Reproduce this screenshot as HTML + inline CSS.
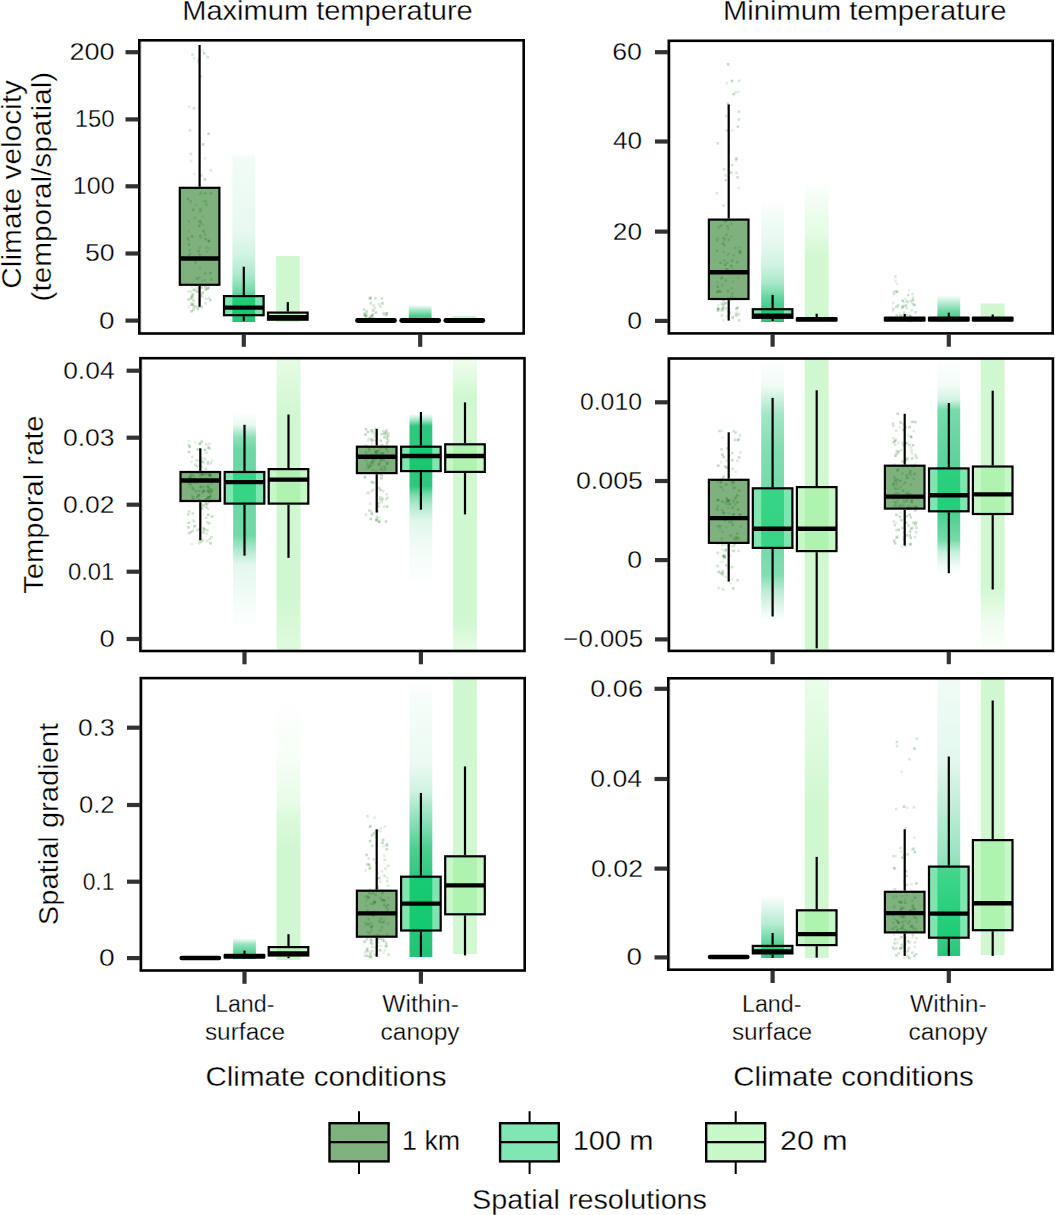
<!DOCTYPE html><html><head><meta charset="utf-8"><style>html,body{margin:0;padding:0;background:#fff;width:1055px;height:1215px;overflow:hidden}svg{display:block}</style></head><body><svg width="1055" height="1215" viewBox="0 0 1055 1215"><rect width="100%" height="100%" fill="#fff"/><defs><linearGradient id="g1" x1="0" y1="0" x2="0" y2="1"><stop offset="0.0000" stop-color="#1CC273" stop-opacity="0.0"/><stop offset="0.0469" stop-color="#1CC273" stop-opacity="0.06"/><stop offset="0.4575" stop-color="#1CC273" stop-opacity="0.1"/><stop offset="0.6041" stop-color="#1CC273" stop-opacity="0.2"/><stop offset="0.7214" stop-color="#1CC273" stop-opacity="0.36"/><stop offset="0.8094" stop-color="#1CC273" stop-opacity="0.6"/><stop offset="0.8680" stop-color="#1CC273" stop-opacity="0.85"/><stop offset="0.9941" stop-color="#1CC273" stop-opacity="0.97"/><stop offset="1.0000" stop-color="#1CC273" stop-opacity="0.0"/></linearGradient><linearGradient id="g2" x1="0" y1="0" x2="0" y2="1"><stop offset="0.0000" stop-color="#90EE90" stop-opacity="0.0"/><stop offset="0.0149" stop-color="#90EE90" stop-opacity="0.42"/><stop offset="0.9851" stop-color="#90EE90" stop-opacity="0.42"/><stop offset="1.0000" stop-color="#90EE90" stop-opacity="0.0"/></linearGradient><linearGradient id="g3" x1="0" y1="0" x2="0" y2="1"><stop offset="0.0000" stop-color="#1CC273" stop-opacity="0.0"/><stop offset="0.3030" stop-color="#1CC273" stop-opacity="0.4"/><stop offset="0.6667" stop-color="#1CC273" stop-opacity="0.8"/><stop offset="1.0000" stop-color="#1CC273" stop-opacity="0.9"/></linearGradient><linearGradient id="g4" x1="0" y1="0" x2="0" y2="1"><stop offset="0.0000" stop-color="#90EE90" stop-opacity="0.0"/><stop offset="0.1667" stop-color="#90EE90" stop-opacity="0.42"/><stop offset="1.0000" stop-color="#90EE90" stop-opacity="0.42"/></linearGradient><linearGradient id="g5" x1="0" y1="0" x2="0" y2="1"><stop offset="0.0000" stop-color="#1CC273" stop-opacity="0.0"/><stop offset="0.1224" stop-color="#1CC273" stop-opacity="0.05"/><stop offset="0.3265" stop-color="#1CC273" stop-opacity="0.1"/><stop offset="0.5306" stop-color="#1CC273" stop-opacity="0.2"/><stop offset="0.6776" stop-color="#1CC273" stop-opacity="0.38"/><stop offset="0.8000" stop-color="#1CC273" stop-opacity="0.7"/><stop offset="0.9918" stop-color="#1CC273" stop-opacity="0.97"/><stop offset="1.0000" stop-color="#1CC273" stop-opacity="0.0"/></linearGradient><linearGradient id="g6" x1="0" y1="0" x2="0" y2="1"><stop offset="0.0000" stop-color="#90EE90" stop-opacity="0.0"/><stop offset="0.1463" stop-color="#90EE90" stop-opacity="0.1"/><stop offset="0.3902" stop-color="#90EE90" stop-opacity="0.25"/><stop offset="0.5296" stop-color="#90EE90" stop-opacity="0.4"/><stop offset="0.9930" stop-color="#90EE90" stop-opacity="0.42"/><stop offset="1.0000" stop-color="#90EE90" stop-opacity="0.0"/></linearGradient><linearGradient id="g7" x1="0" y1="0" x2="0" y2="1"><stop offset="0.0000" stop-color="#1CC273" stop-opacity="0.0"/><stop offset="0.1887" stop-color="#1CC273" stop-opacity="0.2"/><stop offset="0.5660" stop-color="#1CC273" stop-opacity="0.6"/><stop offset="1.0000" stop-color="#1CC273" stop-opacity="0.9"/></linearGradient><linearGradient id="g8" x1="0" y1="0" x2="0" y2="1"><stop offset="0.0000" stop-color="#90EE90" stop-opacity="0.0"/><stop offset="0.0541" stop-color="#90EE90" stop-opacity="0.42"/><stop offset="1.0000" stop-color="#90EE90" stop-opacity="0.42"/></linearGradient><linearGradient id="g9" x1="0" y1="0" x2="0" y2="1"><stop offset="0.0000" stop-color="#1CC273" stop-opacity="0.0"/><stop offset="0.0602" stop-color="#1CC273" stop-opacity="0.1"/><stop offset="0.1157" stop-color="#1CC273" stop-opacity="0.5"/><stop offset="0.1759" stop-color="#1CC273" stop-opacity="0.65"/><stop offset="0.5694" stop-color="#1CC273" stop-opacity="0.62"/><stop offset="0.6389" stop-color="#1CC273" stop-opacity="0.35"/><stop offset="0.7083" stop-color="#1CC273" stop-opacity="0.12"/><stop offset="0.8704" stop-color="#1CC273" stop-opacity="0.05"/><stop offset="1.0000" stop-color="#1CC273" stop-opacity="0.0"/></linearGradient><linearGradient id="g10" x1="0" y1="0" x2="0" y2="1"><stop offset="0.0000" stop-color="#90EE90" stop-opacity="0.22"/><stop offset="0.1919" stop-color="#90EE90" stop-opacity="0.42"/><stop offset="0.8234" stop-color="#90EE90" stop-opacity="0.42"/><stop offset="1.0000" stop-color="#90EE90" stop-opacity="0.28"/></linearGradient><linearGradient id="g11" x1="0" y1="0" x2="0" y2="1"><stop offset="0.0000" stop-color="#1CC273" stop-opacity="0.0"/><stop offset="0.0349" stop-color="#1CC273" stop-opacity="0.4"/><stop offset="0.0698" stop-color="#1CC273" stop-opacity="0.92"/><stop offset="0.4186" stop-color="#1CC273" stop-opacity="0.92"/><stop offset="0.4651" stop-color="#1CC273" stop-opacity="0.6"/><stop offset="0.5291" stop-color="#1CC273" stop-opacity="0.35"/><stop offset="0.6163" stop-color="#1CC273" stop-opacity="0.15"/><stop offset="0.7616" stop-color="#1CC273" stop-opacity="0.06"/><stop offset="1.0000" stop-color="#1CC273" stop-opacity="0.0"/></linearGradient><linearGradient id="g12" x1="0" y1="0" x2="0" y2="1"><stop offset="0.0000" stop-color="#90EE90" stop-opacity="0.12"/><stop offset="0.1307" stop-color="#90EE90" stop-opacity="0.42"/><stop offset="0.8947" stop-color="#90EE90" stop-opacity="0.42"/><stop offset="1.0000" stop-color="#90EE90" stop-opacity="0.2"/></linearGradient><linearGradient id="g13" x1="0" y1="0" x2="0" y2="1"><stop offset="0.0000" stop-color="#1CC273" stop-opacity="0.0"/><stop offset="0.1065" stop-color="#1CC273" stop-opacity="0.06"/><stop offset="0.2167" stop-color="#1CC273" stop-opacity="0.4"/><stop offset="0.3536" stop-color="#1CC273" stop-opacity="0.55"/><stop offset="0.6198" stop-color="#1CC273" stop-opacity="0.65"/><stop offset="0.8289" stop-color="#1CC273" stop-opacity="0.55"/><stop offset="0.8897" stop-color="#1CC273" stop-opacity="0.3"/><stop offset="1.0000" stop-color="#1CC273" stop-opacity="0.0"/></linearGradient><linearGradient id="g14" x1="0" y1="0" x2="0" y2="1"><stop offset="0.0000" stop-color="#90EE90" stop-opacity="0.42"/><stop offset="1.0000" stop-color="#90EE90" stop-opacity="0.42"/></linearGradient><linearGradient id="g15" x1="0" y1="0" x2="0" y2="1"><stop offset="0.0000" stop-color="#1CC273" stop-opacity="0.0"/><stop offset="0.1284" stop-color="#1CC273" stop-opacity="0.05"/><stop offset="0.1972" stop-color="#1CC273" stop-opacity="0.2"/><stop offset="0.2431" stop-color="#1CC273" stop-opacity="0.6"/><stop offset="0.4954" stop-color="#1CC273" stop-opacity="0.72"/><stop offset="0.7110" stop-color="#1CC273" stop-opacity="0.8"/><stop offset="0.8394" stop-color="#1CC273" stop-opacity="0.6"/><stop offset="0.8945" stop-color="#1CC273" stop-opacity="0.25"/><stop offset="0.9633" stop-color="#1CC273" stop-opacity="0.05"/><stop offset="1.0000" stop-color="#1CC273" stop-opacity="0.0"/></linearGradient><linearGradient id="g16" x1="0" y1="0" x2="0" y2="1"><stop offset="0.0000" stop-color="#90EE90" stop-opacity="0.42"/><stop offset="0.7839" stop-color="#90EE90" stop-opacity="0.42"/><stop offset="0.9005" stop-color="#90EE90" stop-opacity="0.15"/><stop offset="1.0000" stop-color="#90EE90" stop-opacity="0.04"/></linearGradient><linearGradient id="g17" x1="0" y1="0" x2="0" y2="1"><stop offset="0.0000" stop-color="#1CC273" stop-opacity="0.0"/><stop offset="0.3333" stop-color="#1CC273" stop-opacity="0.5"/><stop offset="1.0000" stop-color="#1CC273" stop-opacity="0.95"/></linearGradient><linearGradient id="g18" x1="0" y1="0" x2="0" y2="1"><stop offset="0.0000" stop-color="#90EE90" stop-opacity="0.0"/><stop offset="0.2453" stop-color="#90EE90" stop-opacity="0.08"/><stop offset="0.3962" stop-color="#90EE90" stop-opacity="0.2"/><stop offset="0.4755" stop-color="#90EE90" stop-opacity="0.33"/><stop offset="0.5660" stop-color="#90EE90" stop-opacity="0.42"/><stop offset="1.0000" stop-color="#90EE90" stop-opacity="0.42"/></linearGradient><linearGradient id="g19" x1="0" y1="0" x2="0" y2="1"><stop offset="0.0000" stop-color="#1CC273" stop-opacity="0.0"/><stop offset="0.0722" stop-color="#1CC273" stop-opacity="0.04"/><stop offset="0.2888" stop-color="#1CC273" stop-opacity="0.08"/><stop offset="0.3971" stop-color="#1CC273" stop-opacity="0.2"/><stop offset="0.5054" stop-color="#1CC273" stop-opacity="0.5"/><stop offset="0.6137" stop-color="#1CC273" stop-opacity="0.8"/><stop offset="0.7040" stop-color="#1CC273" stop-opacity="0.9"/><stop offset="1.0000" stop-color="#1CC273" stop-opacity="0.97"/></linearGradient><linearGradient id="g20" x1="0" y1="0" x2="0" y2="1"><stop offset="0.0000" stop-color="#90EE90" stop-opacity="0.42"/><stop offset="1.0000" stop-color="#90EE90" stop-opacity="0.42"/></linearGradient><linearGradient id="g21" x1="0" y1="0" x2="0" y2="1"><stop offset="0.0000" stop-color="#1CC273" stop-opacity="0.0"/><stop offset="0.4603" stop-color="#1CC273" stop-opacity="0.32"/><stop offset="0.7143" stop-color="#1CC273" stop-opacity="0.65"/><stop offset="1.0000" stop-color="#1CC273" stop-opacity="0.92"/></linearGradient><linearGradient id="g22" x1="0" y1="0" x2="0" y2="1"><stop offset="0.0000" stop-color="#90EE90" stop-opacity="0.18"/><stop offset="0.3048" stop-color="#90EE90" stop-opacity="0.33"/><stop offset="0.4367" stop-color="#90EE90" stop-opacity="0.42"/><stop offset="1.0000" stop-color="#90EE90" stop-opacity="0.42"/></linearGradient><linearGradient id="g23" x1="0" y1="0" x2="0" y2="1"><stop offset="0.0000" stop-color="#1CC273" stop-opacity="0.06"/><stop offset="0.2962" stop-color="#1CC273" stop-opacity="0.12"/><stop offset="0.6373" stop-color="#1CC273" stop-opacity="0.45"/><stop offset="0.7989" stop-color="#1CC273" stop-opacity="0.7"/><stop offset="1.0000" stop-color="#1CC273" stop-opacity="0.95"/></linearGradient><linearGradient id="g24" x1="0" y1="0" x2="0" y2="1"><stop offset="0.0000" stop-color="#90EE90" stop-opacity="0.42"/><stop offset="1.0000" stop-color="#90EE90" stop-opacity="0.42"/></linearGradient></defs><g><rect x="201.9" y="200.5" width="2.6" height="2.6" fill="#006400" fill-opacity="0.1"/><rect x="200.3" y="286.4" width="2.6" height="2.6" fill="#006400" fill-opacity="0.14"/><rect x="188.0" y="105.2" width="2.6" height="2.6" fill="#006400" fill-opacity="0.1"/><rect x="199.9" y="191.4" width="2.6" height="2.6" fill="#006400" fill-opacity="0.14"/><rect x="187.8" y="243.2" width="2.6" height="2.6" fill="#006400" fill-opacity="0.23"/><rect x="199.7" y="75.1" width="2.6" height="2.6" fill="#006400" fill-opacity="0.14"/><rect x="189.1" y="199.9" width="2.6" height="2.6" fill="#006400" fill-opacity="0.18"/><rect x="188.8" y="253.0" width="2.6" height="2.6" fill="#006400" fill-opacity="0.14"/><rect x="187.8" y="239.7" width="2.6" height="2.6" fill="#006400" fill-opacity="0.1"/><rect x="199.1" y="234.6" width="2.6" height="2.6" fill="#006400" fill-opacity="0.18"/><rect x="195.0" y="276.8" width="2.6" height="2.6" fill="#006400" fill-opacity="0.14"/><rect x="192.2" y="299.3" width="2.6" height="2.6" fill="#006400" fill-opacity="0.18"/><rect x="203.8" y="272.1" width="2.6" height="2.6" fill="#006400" fill-opacity="0.18"/><rect x="198.6" y="192.8" width="2.6" height="2.6" fill="#006400" fill-opacity="0.14"/><rect x="198.0" y="287.6" width="2.6" height="2.6" fill="#006400" fill-opacity="0.1"/><rect x="199.7" y="286.1" width="2.6" height="2.6" fill="#006400" fill-opacity="0.18"/><rect x="198.2" y="220.2" width="2.6" height="2.6" fill="#006400" fill-opacity="0.23"/><rect x="192.8" y="57.0" width="2.6" height="2.6" fill="#006400" fill-opacity="0.1"/><rect x="201.8" y="143.2" width="2.6" height="2.6" fill="#006400" fill-opacity="0.23"/><rect x="202.3" y="223.7" width="2.6" height="2.6" fill="#006400" fill-opacity="0.1"/><rect x="201.0" y="292.0" width="2.6" height="2.6" fill="#006400" fill-opacity="0.23"/><rect x="189.4" y="152.7" width="2.6" height="2.6" fill="#006400" fill-opacity="0.14"/><rect x="198.2" y="276.2" width="2.6" height="2.6" fill="#006400" fill-opacity="0.14"/><rect x="207.5" y="239.9" width="2.6" height="2.6" fill="#006400" fill-opacity="0.23"/><rect x="196.3" y="290.3" width="2.6" height="2.6" fill="#006400" fill-opacity="0.18"/><rect x="191.8" y="292.5" width="2.6" height="2.6" fill="#006400" fill-opacity="0.1"/><rect x="191.9" y="208.5" width="2.6" height="2.6" fill="#006400" fill-opacity="0.23"/><rect x="193.1" y="288.3" width="2.6" height="2.6" fill="#006400" fill-opacity="0.14"/><rect x="199.9" y="222.1" width="2.6" height="2.6" fill="#006400" fill-opacity="0.14"/><rect x="201.1" y="295.4" width="2.6" height="2.6" fill="#006400" fill-opacity="0.1"/><rect x="209.1" y="271.7" width="2.6" height="2.6" fill="#006400" fill-opacity="0.23"/><rect x="197.9" y="224.5" width="2.6" height="2.6" fill="#006400" fill-opacity="0.23"/><rect x="191.3" y="53.3" width="2.6" height="2.6" fill="#006400" fill-opacity="0.14"/><rect x="188.8" y="128.9" width="2.6" height="2.6" fill="#006400" fill-opacity="0.14"/><rect x="201.0" y="279.4" width="2.6" height="2.6" fill="#006400" fill-opacity="0.1"/><rect x="189.9" y="297.5" width="2.6" height="2.6" fill="#006400" fill-opacity="0.18"/><rect x="197.7" y="297.2" width="2.6" height="2.6" fill="#006400" fill-opacity="0.1"/><rect x="197.5" y="305.6" width="2.6" height="2.6" fill="#006400" fill-opacity="0.23"/><rect x="204.3" y="199.8" width="2.6" height="2.6" fill="#006400" fill-opacity="0.18"/><rect x="198.7" y="254.0" width="2.6" height="2.6" fill="#006400" fill-opacity="0.14"/><rect x="189.8" y="295.7" width="2.6" height="2.6" fill="#006400" fill-opacity="0.1"/><rect x="201.7" y="290.7" width="2.6" height="2.6" fill="#006400" fill-opacity="0.1"/><rect x="195.1" y="290.0" width="2.6" height="2.6" fill="#006400" fill-opacity="0.14"/><rect x="199.3" y="207.6" width="2.6" height="2.6" fill="#006400" fill-opacity="0.18"/><rect x="205.2" y="246.2" width="2.6" height="2.6" fill="#006400" fill-opacity="0.14"/><rect x="204.1" y="301.8" width="2.6" height="2.6" fill="#006400" fill-opacity="0.14"/><rect x="203.8" y="234.3" width="2.6" height="2.6" fill="#006400" fill-opacity="0.1"/><rect x="190.9" y="294.5" width="2.6" height="2.6" fill="#006400" fill-opacity="0.18"/><rect x="210.0" y="278.2" width="2.6" height="2.6" fill="#006400" fill-opacity="0.18"/><rect x="197.6" y="58.2" width="2.6" height="2.6" fill="#006400" fill-opacity="0.18"/><rect x="207.9" y="247.3" width="2.6" height="2.6" fill="#006400" fill-opacity="0.1"/><rect x="205.5" y="250.1" width="2.6" height="2.6" fill="#006400" fill-opacity="0.1"/><rect x="195.6" y="287.0" width="2.6" height="2.6" fill="#006400" fill-opacity="0.14"/><rect x="205.2" y="203.2" width="2.6" height="2.6" fill="#006400" fill-opacity="0.18"/><rect x="203.6" y="178.0" width="2.6" height="2.6" fill="#006400" fill-opacity="0.23"/><rect x="203.7" y="279.1" width="2.6" height="2.6" fill="#006400" fill-opacity="0.14"/><rect x="200.5" y="305.8" width="2.6" height="2.6" fill="#006400" fill-opacity="0.23"/><rect x="206.1" y="287.5" width="2.6" height="2.6" fill="#006400" fill-opacity="0.23"/><rect x="199.5" y="220.2" width="2.6" height="2.6" fill="#006400" fill-opacity="0.14"/><rect x="203.7" y="157.1" width="2.6" height="2.6" fill="#006400" fill-opacity="0.1"/><rect x="196.7" y="277.8" width="2.6" height="2.6" fill="#006400" fill-opacity="0.14"/><rect x="192.3" y="288.9" width="2.6" height="2.6" fill="#006400" fill-opacity="0.18"/><rect x="194.1" y="261.1" width="2.6" height="2.6" fill="#006400" fill-opacity="0.23"/><rect x="204.1" y="285.7" width="2.6" height="2.6" fill="#006400" fill-opacity="0.23"/><rect x="198.7" y="266.1" width="2.6" height="2.6" fill="#006400" fill-opacity="0.14"/><rect x="186.7" y="237.3" width="2.6" height="2.6" fill="#006400" fill-opacity="0.23"/><rect x="204.9" y="297.4" width="2.6" height="2.6" fill="#006400" fill-opacity="0.14"/><rect x="203.7" y="232.4" width="2.6" height="2.6" fill="#006400" fill-opacity="0.1"/><rect x="199.6" y="236.8" width="2.6" height="2.6" fill="#006400" fill-opacity="0.1"/><rect x="190.9" y="285.6" width="2.6" height="2.6" fill="#006400" fill-opacity="0.1"/><rect x="199.8" y="295.2" width="2.6" height="2.6" fill="#006400" fill-opacity="0.1"/><rect x="198.4" y="246.1" width="2.6" height="2.6" fill="#006400" fill-opacity="0.14"/><rect x="199.1" y="294.0" width="2.6" height="2.6" fill="#006400" fill-opacity="0.23"/><rect x="198.9" y="210.1" width="2.6" height="2.6" fill="#006400" fill-opacity="0.18"/><rect x="191.2" y="303.4" width="2.6" height="2.6" fill="#006400" fill-opacity="0.23"/><rect x="196.9" y="61.0" width="2.6" height="2.6" fill="#006400" fill-opacity="0.1"/><rect x="191.4" y="293.5" width="2.6" height="2.6" fill="#006400" fill-opacity="0.18"/><rect x="190.0" y="303.5" width="2.6" height="2.6" fill="#006400" fill-opacity="0.18"/><rect x="209.5" y="169.0" width="2.6" height="2.6" fill="#006400" fill-opacity="0.14"/><rect x="207.5" y="286.4" width="2.6" height="2.6" fill="#006400" fill-opacity="0.14"/><rect x="190.2" y="309.9" width="2.6" height="2.6" fill="#006400" fill-opacity="0.23"/><rect x="196.4" y="307.7" width="2.6" height="2.6" fill="#006400" fill-opacity="0.18"/><rect x="186.8" y="256.9" width="2.6" height="2.6" fill="#006400" fill-opacity="0.23"/><rect x="194.3" y="187.4" width="2.6" height="2.6" fill="#006400" fill-opacity="0.18"/><rect x="209.9" y="192.0" width="2.6" height="2.6" fill="#006400" fill-opacity="0.14"/><rect x="192.7" y="306.2" width="2.6" height="2.6" fill="#006400" fill-opacity="0.1"/><rect x="204.4" y="288.3" width="2.6" height="2.6" fill="#006400" fill-opacity="0.23"/><rect x="209.0" y="298.8" width="2.6" height="2.6" fill="#006400" fill-opacity="0.23"/><rect x="200.0" y="174.1" width="2.6" height="2.6" fill="#006400" fill-opacity="0.18"/><rect x="202.8" y="51.9" width="2.6" height="2.6" fill="#006400" fill-opacity="0.23"/><rect x="186.7" y="290.1" width="2.6" height="2.6" fill="#006400" fill-opacity="0.1"/><rect x="206.8" y="286.2" width="2.6" height="2.6" fill="#006400" fill-opacity="0.1"/><rect x="186.6" y="197.6" width="2.6" height="2.6" fill="#006400" fill-opacity="0.23"/><rect x="189.4" y="290.1" width="2.6" height="2.6" fill="#006400" fill-opacity="0.14"/><rect x="192.6" y="305.0" width="2.6" height="2.6" fill="#006400" fill-opacity="0.14"/><rect x="193.6" y="216.4" width="2.6" height="2.6" fill="#006400" fill-opacity="0.14"/><rect x="190.6" y="235.0" width="2.6" height="2.6" fill="#006400" fill-opacity="0.18"/><rect x="187.2" y="305.6" width="2.6" height="2.6" fill="#006400" fill-opacity="0.1"/><rect x="190.8" y="296.1" width="2.6" height="2.6" fill="#006400" fill-opacity="0.23"/><rect x="202.1" y="229.8" width="2.6" height="2.6" fill="#006400" fill-opacity="0.23"/><rect x="207.6" y="239.5" width="2.6" height="2.6" fill="#006400" fill-opacity="0.18"/><rect x="194.5" y="305.3" width="2.6" height="2.6" fill="#006400" fill-opacity="0.14"/><rect x="187.6" y="219.9" width="2.6" height="2.6" fill="#006400" fill-opacity="0.14"/><rect x="207.4" y="132.5" width="2.6" height="2.6" fill="#006400" fill-opacity="0.23"/><rect x="206.5" y="55.7" width="2.6" height="2.6" fill="#006400" fill-opacity="0.18"/><rect x="187.4" y="254.0" width="2.6" height="2.6" fill="#006400" fill-opacity="0.14"/><rect x="192.6" y="107.0" width="2.6" height="2.6" fill="#006400" fill-opacity="0.18"/><rect x="192.2" y="308.4" width="2.6" height="2.6" fill="#006400" fill-opacity="0.18"/><rect x="194.3" y="203.7" width="2.6" height="2.6" fill="#006400" fill-opacity="0.1"/><rect x="191.1" y="235.3" width="2.6" height="2.6" fill="#006400" fill-opacity="0.1"/><rect x="189.8" y="159.6" width="2.6" height="2.6" fill="#006400" fill-opacity="0.1"/><rect x="201.4" y="215.2" width="2.6" height="2.6" fill="#006400" fill-opacity="0.1"/><rect x="204.3" y="237.9" width="2.6" height="2.6" fill="#006400" fill-opacity="0.23"/><rect x="198.2" y="299.8" width="2.6" height="2.6" fill="#006400" fill-opacity="0.18"/><rect x="187.4" y="298.1" width="2.6" height="2.6" fill="#006400" fill-opacity="0.23"/><rect x="189.6" y="301.7" width="2.6" height="2.6" fill="#006400" fill-opacity="0.1"/><rect x="207.7" y="296.8" width="2.6" height="2.6" fill="#006400" fill-opacity="0.14"/><rect x="201.6" y="49.6" width="2.6" height="2.6" fill="#006400" fill-opacity="0.1"/><rect x="187.5" y="230.2" width="2.6" height="2.6" fill="#006400" fill-opacity="0.1"/><rect x="198.0" y="252.8" width="2.6" height="2.6" fill="#006400" fill-opacity="0.1"/><rect x="208.7" y="192.5" width="2.6" height="2.6" fill="#006400" fill-opacity="0.1"/><rect x="204.0" y="192.1" width="2.6" height="2.6" fill="#006400" fill-opacity="0.18"/><rect x="191.9" y="302.4" width="2.6" height="2.6" fill="#006400" fill-opacity="0.14"/><rect x="197.3" y="249.8" width="2.6" height="2.6" fill="#006400" fill-opacity="0.23"/><rect x="193.2" y="172.9" width="2.6" height="2.6" fill="#006400" fill-opacity="0.1"/><rect x="188.2" y="249.1" width="2.6" height="2.6" fill="#006400" fill-opacity="0.14"/><rect x="232.4" y="152.0" width="22.8" height="170.5" fill="url(#g1)"/><rect x="275.9" y="255.5" width="23.8" height="67.0" fill="url(#g2)"/><rect x="379.3" y="305.5" width="2.6" height="2.6" fill="#006400" fill-opacity="0.14"/><rect x="369.2" y="296.6" width="2.6" height="2.6" fill="#006400" fill-opacity="0.1"/><rect x="369.7" y="316.8" width="2.6" height="2.6" fill="#006400" fill-opacity="0.18"/><rect x="365.5" y="314.9" width="2.6" height="2.6" fill="#006400" fill-opacity="0.14"/><rect x="374.1" y="297.0" width="2.6" height="2.6" fill="#006400" fill-opacity="0.18"/><rect x="385.9" y="318.1" width="2.6" height="2.6" fill="#006400" fill-opacity="0.23"/><rect x="384.7" y="314.2" width="2.6" height="2.6" fill="#006400" fill-opacity="0.14"/><rect x="380.6" y="297.1" width="2.6" height="2.6" fill="#006400" fill-opacity="0.18"/><rect x="382.4" y="311.9" width="2.6" height="2.6" fill="#006400" fill-opacity="0.18"/><rect x="368.3" y="317.0" width="2.6" height="2.6" fill="#006400" fill-opacity="0.23"/><rect x="385.5" y="312.1" width="2.6" height="2.6" fill="#006400" fill-opacity="0.23"/><rect x="372.7" y="317.2" width="2.6" height="2.6" fill="#006400" fill-opacity="0.23"/><rect x="362.7" y="308.3" width="2.6" height="2.6" fill="#006400" fill-opacity="0.18"/><rect x="384.9" y="311.8" width="2.6" height="2.6" fill="#006400" fill-opacity="0.1"/><rect x="371.6" y="313.3" width="2.6" height="2.6" fill="#006400" fill-opacity="0.23"/><rect x="364.5" y="318.5" width="2.6" height="2.6" fill="#006400" fill-opacity="0.23"/><rect x="369.4" y="318.4" width="2.6" height="2.6" fill="#006400" fill-opacity="0.1"/><rect x="385.2" y="313.3" width="2.6" height="2.6" fill="#006400" fill-opacity="0.14"/><rect x="370.3" y="314.6" width="2.6" height="2.6" fill="#006400" fill-opacity="0.18"/><rect x="363.4" y="314.5" width="2.6" height="2.6" fill="#006400" fill-opacity="0.23"/><rect x="375.9" y="319.2" width="2.6" height="2.6" fill="#006400" fill-opacity="0.1"/><rect x="373.5" y="306.7" width="2.6" height="2.6" fill="#006400" fill-opacity="0.14"/><rect x="363.9" y="313.3" width="2.6" height="2.6" fill="#006400" fill-opacity="0.14"/><rect x="369.5" y="301.9" width="2.6" height="2.6" fill="#006400" fill-opacity="0.18"/><rect x="368.9" y="319.5" width="2.6" height="2.6" fill="#006400" fill-opacity="0.14"/><rect x="372.2" y="304.1" width="2.6" height="2.6" fill="#006400" fill-opacity="0.14"/><rect x="374.7" y="311.4" width="2.6" height="2.6" fill="#006400" fill-opacity="0.23"/><rect x="370.7" y="314.8" width="2.6" height="2.6" fill="#006400" fill-opacity="0.23"/><rect x="368.6" y="315.6" width="2.6" height="2.6" fill="#006400" fill-opacity="0.14"/><rect x="368.4" y="297.1" width="2.6" height="2.6" fill="#006400" fill-opacity="0.18"/><rect x="363.2" y="312.5" width="2.6" height="2.6" fill="#006400" fill-opacity="0.23"/><rect x="367.7" y="317.4" width="2.6" height="2.6" fill="#006400" fill-opacity="0.18"/><rect x="369.4" y="296.6" width="2.6" height="2.6" fill="#006400" fill-opacity="0.18"/><rect x="377.8" y="303.3" width="2.6" height="2.6" fill="#006400" fill-opacity="0.14"/><rect x="371.9" y="309.2" width="2.6" height="2.6" fill="#006400" fill-opacity="0.23"/><rect x="382.2" y="313.5" width="2.6" height="2.6" fill="#006400" fill-opacity="0.1"/><rect x="381.0" y="302.1" width="2.6" height="2.6" fill="#006400" fill-opacity="0.23"/><rect x="364.5" y="315.1" width="2.6" height="2.6" fill="#006400" fill-opacity="0.23"/><rect x="365.3" y="312.9" width="2.6" height="2.6" fill="#006400" fill-opacity="0.14"/><rect x="365.3" y="310.3" width="2.6" height="2.6" fill="#006400" fill-opacity="0.23"/><rect x="408.8" y="305.0" width="22.8" height="16.5" fill="url(#g3)"/><rect x="452.4" y="315.5" width="23.8" height="6.0" fill="url(#g4)"/><line x1="199.6" y1="45.0" x2="199.6" y2="186.7" stroke="#000" stroke-width="2.2"/><line x1="199.6" y1="285.9" x2="199.6" y2="306.7" stroke="#000" stroke-width="2.2"/><rect x="179.8" y="187.8" width="39.6" height="97.0" fill="#006400" fill-opacity="0.5" stroke="#000" stroke-width="2.2"/><line x1="179.7" y1="258.5" x2="219.5" y2="258.5" stroke="#000" stroke-width="4.4"/><line x1="243.8" y1="266.7" x2="243.8" y2="295.0" stroke="#000" stroke-width="2.2"/><line x1="243.8" y1="316.3" x2="243.8" y2="321.3" stroke="#000" stroke-width="2.2"/><rect x="224.0" y="296.1" width="39.6" height="19.1" fill="#00CD66" fill-opacity="0.5" stroke="#000" stroke-width="2.2"/><line x1="223.9" y1="307.6" x2="263.7" y2="307.6" stroke="#000" stroke-width="4.4"/><line x1="287.8" y1="302.1" x2="287.8" y2="311.5" stroke="#000" stroke-width="2.2"/><rect x="268.0" y="312.6" width="39.6" height="7.1" fill="#90EE90" fill-opacity="0.5" stroke="#000" stroke-width="2.2"/><line x1="267.9" y1="317.3" x2="307.7" y2="317.3" stroke="#000" stroke-width="4.4"/><rect x="355.1" y="318.10" width="41.8" height="4.8" rx="2.4" fill="#000"/><rect x="399.3" y="318.10" width="41.8" height="4.8" rx="2.4" fill="#000"/><rect x="443.4" y="318.10" width="41.8" height="4.8" rx="2.4" fill="#000"/><line x1="141.10" y1="41.6" x2="141.10" y2="332.2" stroke="#d6d6d6" stroke-width="1"/><rect x="139.30" y="40.30" width="384.40" height="293.20" fill="none" stroke="#000" stroke-width="2.6"/><line x1="125.5" y1="52.2" x2="138.5" y2="52.2" stroke="#333" stroke-width="4.2"/><line x1="125.5" y1="119.4" x2="138.5" y2="119.4" stroke="#333" stroke-width="4.2"/><line x1="125.5" y1="186.3" x2="138.5" y2="186.3" stroke="#333" stroke-width="4.2"/><line x1="125.5" y1="253.5" x2="138.5" y2="253.5" stroke="#333" stroke-width="4.2"/><line x1="125.5" y1="320.6" x2="138.5" y2="320.6" stroke="#333" stroke-width="4.2"/><line x1="243.8" y1="334.3" x2="243.8" y2="346.8" stroke="#333" stroke-width="4.2"/><line x1="420.2" y1="334.3" x2="420.2" y2="346.8" stroke="#333" stroke-width="4.2"/><rect x="715.4" y="191.8" width="2.6" height="2.6" fill="#006400" fill-opacity="0.14"/><rect x="730.9" y="292.3" width="2.6" height="2.6" fill="#006400" fill-opacity="0.18"/><rect x="728.1" y="311.6" width="2.6" height="2.6" fill="#006400" fill-opacity="0.23"/><rect x="717.1" y="226.4" width="2.6" height="2.6" fill="#006400" fill-opacity="0.14"/><rect x="729.8" y="235.4" width="2.6" height="2.6" fill="#006400" fill-opacity="0.1"/><rect x="722.1" y="298.5" width="2.6" height="2.6" fill="#006400" fill-opacity="0.18"/><rect x="726.8" y="289.3" width="2.6" height="2.6" fill="#006400" fill-opacity="0.14"/><rect x="725.3" y="219.6" width="2.6" height="2.6" fill="#006400" fill-opacity="0.18"/><rect x="736.6" y="125.3" width="2.6" height="2.6" fill="#006400" fill-opacity="0.23"/><rect x="725.6" y="129.2" width="2.6" height="2.6" fill="#006400" fill-opacity="0.18"/><rect x="723.5" y="220.0" width="2.6" height="2.6" fill="#006400" fill-opacity="0.23"/><rect x="715.6" y="249.5" width="2.6" height="2.6" fill="#006400" fill-opacity="0.18"/><rect x="720.3" y="309.2" width="2.6" height="2.6" fill="#006400" fill-opacity="0.14"/><rect x="720.9" y="284.1" width="2.6" height="2.6" fill="#006400" fill-opacity="0.14"/><rect x="718.0" y="289.8" width="2.6" height="2.6" fill="#006400" fill-opacity="0.23"/><rect x="727.0" y="290.4" width="2.6" height="2.6" fill="#006400" fill-opacity="0.1"/><rect x="724.8" y="301.8" width="2.6" height="2.6" fill="#006400" fill-opacity="0.14"/><rect x="725.4" y="82.0" width="2.6" height="2.6" fill="#006400" fill-opacity="0.1"/><rect x="732.5" y="253.9" width="2.6" height="2.6" fill="#006400" fill-opacity="0.18"/><rect x="737.8" y="319.2" width="2.6" height="2.6" fill="#006400" fill-opacity="0.18"/><rect x="728.0" y="270.4" width="2.6" height="2.6" fill="#006400" fill-opacity="0.23"/><rect x="724.5" y="178.9" width="2.6" height="2.6" fill="#006400" fill-opacity="0.18"/><rect x="718.0" y="307.9" width="2.6" height="2.6" fill="#006400" fill-opacity="0.1"/><rect x="738.3" y="245.9" width="2.6" height="2.6" fill="#006400" fill-opacity="0.1"/><rect x="724.5" y="279.1" width="2.6" height="2.6" fill="#006400" fill-opacity="0.18"/><rect x="716.6" y="307.7" width="2.6" height="2.6" fill="#006400" fill-opacity="0.23"/><rect x="726.1" y="261.4" width="2.6" height="2.6" fill="#006400" fill-opacity="0.18"/><rect x="716.1" y="290.4" width="2.6" height="2.6" fill="#006400" fill-opacity="0.23"/><rect x="725.1" y="268.2" width="2.6" height="2.6" fill="#006400" fill-opacity="0.23"/><rect x="737.5" y="110.3" width="2.6" height="2.6" fill="#006400" fill-opacity="0.18"/><rect x="729.9" y="222.3" width="2.6" height="2.6" fill="#006400" fill-opacity="0.18"/><rect x="730.2" y="295.3" width="2.6" height="2.6" fill="#006400" fill-opacity="0.18"/><rect x="737.6" y="312.9" width="2.6" height="2.6" fill="#006400" fill-opacity="0.18"/><rect x="737.4" y="90.4" width="2.6" height="2.6" fill="#006400" fill-opacity="0.1"/><rect x="726.8" y="63.0" width="2.6" height="2.6" fill="#006400" fill-opacity="0.23"/><rect x="721.4" y="306.7" width="2.6" height="2.6" fill="#006400" fill-opacity="0.23"/><rect x="727.3" y="301.5" width="2.6" height="2.6" fill="#006400" fill-opacity="0.1"/><rect x="735.1" y="313.9" width="2.6" height="2.6" fill="#006400" fill-opacity="0.14"/><rect x="723.1" y="243.9" width="2.6" height="2.6" fill="#006400" fill-opacity="0.18"/><rect x="727.7" y="311.0" width="2.6" height="2.6" fill="#006400" fill-opacity="0.23"/><rect x="717.0" y="303.9" width="2.6" height="2.6" fill="#006400" fill-opacity="0.1"/><rect x="719.3" y="261.6" width="2.6" height="2.6" fill="#006400" fill-opacity="0.23"/><rect x="721.8" y="319.1" width="2.6" height="2.6" fill="#006400" fill-opacity="0.1"/><rect x="739.1" y="251.6" width="2.6" height="2.6" fill="#006400" fill-opacity="0.23"/><rect x="726.5" y="228.0" width="2.6" height="2.6" fill="#006400" fill-opacity="0.14"/><rect x="731.3" y="316.2" width="2.6" height="2.6" fill="#006400" fill-opacity="0.1"/><rect x="722.1" y="304.8" width="2.6" height="2.6" fill="#006400" fill-opacity="0.18"/><rect x="720.2" y="277.4" width="2.6" height="2.6" fill="#006400" fill-opacity="0.14"/><rect x="722.2" y="236.4" width="2.6" height="2.6" fill="#006400" fill-opacity="0.14"/><rect x="739.2" y="249.5" width="2.6" height="2.6" fill="#006400" fill-opacity="0.14"/><rect x="726.5" y="225.4" width="2.6" height="2.6" fill="#006400" fill-opacity="0.1"/><rect x="735.1" y="157.3" width="2.6" height="2.6" fill="#006400" fill-opacity="0.23"/><rect x="722.4" y="299.6" width="2.6" height="2.6" fill="#006400" fill-opacity="0.1"/><rect x="735.3" y="171.7" width="2.6" height="2.6" fill="#006400" fill-opacity="0.14"/><rect x="736.2" y="306.4" width="2.6" height="2.6" fill="#006400" fill-opacity="0.23"/><rect x="731.4" y="280.4" width="2.6" height="2.6" fill="#006400" fill-opacity="0.1"/><rect x="730.3" y="171.2" width="2.6" height="2.6" fill="#006400" fill-opacity="0.14"/><rect x="716.5" y="142.0" width="2.6" height="2.6" fill="#006400" fill-opacity="0.18"/><rect x="737.3" y="186.7" width="2.6" height="2.6" fill="#006400" fill-opacity="0.1"/><rect x="724.3" y="307.2" width="2.6" height="2.6" fill="#006400" fill-opacity="0.18"/><rect x="727.3" y="106.8" width="2.6" height="2.6" fill="#006400" fill-opacity="0.23"/><rect x="724.9" y="114.8" width="2.6" height="2.6" fill="#006400" fill-opacity="0.14"/><rect x="719.3" y="224.6" width="2.6" height="2.6" fill="#006400" fill-opacity="0.18"/><rect x="722.8" y="240.3" width="2.6" height="2.6" fill="#006400" fill-opacity="0.1"/><rect x="724.0" y="263.4" width="2.6" height="2.6" fill="#006400" fill-opacity="0.23"/><rect x="734.7" y="90.9" width="2.6" height="2.6" fill="#006400" fill-opacity="0.14"/><rect x="738.0" y="250.2" width="2.6" height="2.6" fill="#006400" fill-opacity="0.23"/><rect x="735.1" y="307.5" width="2.6" height="2.6" fill="#006400" fill-opacity="0.23"/><rect x="734.0" y="247.0" width="2.6" height="2.6" fill="#006400" fill-opacity="0.14"/><rect x="730.8" y="79.7" width="2.6" height="2.6" fill="#006400" fill-opacity="0.23"/><rect x="724.3" y="174.1" width="2.6" height="2.6" fill="#006400" fill-opacity="0.14"/><rect x="727.9" y="135.5" width="2.6" height="2.6" fill="#006400" fill-opacity="0.1"/><rect x="734.7" y="159.1" width="2.6" height="2.6" fill="#006400" fill-opacity="0.14"/><rect x="716.4" y="285.5" width="2.6" height="2.6" fill="#006400" fill-opacity="0.23"/><rect x="730.7" y="266.8" width="2.6" height="2.6" fill="#006400" fill-opacity="0.1"/><rect x="735.2" y="311.5" width="2.6" height="2.6" fill="#006400" fill-opacity="0.14"/><rect x="730.3" y="287.1" width="2.6" height="2.6" fill="#006400" fill-opacity="0.14"/><rect x="720.6" y="302.6" width="2.6" height="2.6" fill="#006400" fill-opacity="0.23"/><rect x="724.0" y="302.0" width="2.6" height="2.6" fill="#006400" fill-opacity="0.14"/><rect x="736.9" y="276.4" width="2.6" height="2.6" fill="#006400" fill-opacity="0.1"/><rect x="731.5" y="316.1" width="2.6" height="2.6" fill="#006400" fill-opacity="0.18"/><rect x="728.6" y="171.5" width="2.6" height="2.6" fill="#006400" fill-opacity="0.18"/><rect x="721.4" y="242.4" width="2.6" height="2.6" fill="#006400" fill-opacity="0.23"/><rect x="725.9" y="253.7" width="2.6" height="2.6" fill="#006400" fill-opacity="0.1"/><rect x="726.6" y="102.5" width="2.6" height="2.6" fill="#006400" fill-opacity="0.23"/><rect x="726.4" y="314.8" width="2.6" height="2.6" fill="#006400" fill-opacity="0.14"/><rect x="717.0" y="307.0" width="2.6" height="2.6" fill="#006400" fill-opacity="0.18"/><rect x="726.0" y="224.7" width="2.6" height="2.6" fill="#006400" fill-opacity="0.1"/><rect x="737.5" y="118.1" width="2.6" height="2.6" fill="#006400" fill-opacity="0.18"/><rect x="716.7" y="309.3" width="2.6" height="2.6" fill="#006400" fill-opacity="0.23"/><rect x="716.0" y="281.2" width="2.6" height="2.6" fill="#006400" fill-opacity="0.1"/><rect x="735.0" y="313.8" width="2.6" height="2.6" fill="#006400" fill-opacity="0.14"/><rect x="722.3" y="204.2" width="2.6" height="2.6" fill="#006400" fill-opacity="0.14"/><rect x="720.7" y="276.0" width="2.6" height="2.6" fill="#006400" fill-opacity="0.18"/><rect x="723.2" y="237.8" width="2.6" height="2.6" fill="#006400" fill-opacity="0.18"/><rect x="721.5" y="308.2" width="2.6" height="2.6" fill="#006400" fill-opacity="0.23"/><rect x="727.5" y="238.7" width="2.6" height="2.6" fill="#006400" fill-opacity="0.18"/><rect x="725.1" y="233.4" width="2.6" height="2.6" fill="#006400" fill-opacity="0.18"/><rect x="719.4" y="290.3" width="2.6" height="2.6" fill="#006400" fill-opacity="0.18"/><rect x="730.7" y="163.7" width="2.6" height="2.6" fill="#006400" fill-opacity="0.18"/><rect x="727.9" y="308.1" width="2.6" height="2.6" fill="#006400" fill-opacity="0.1"/><rect x="736.0" y="260.9" width="2.6" height="2.6" fill="#006400" fill-opacity="0.18"/><rect x="729.3" y="298.0" width="2.6" height="2.6" fill="#006400" fill-opacity="0.18"/><rect x="720.9" y="223.8" width="2.6" height="2.6" fill="#006400" fill-opacity="0.1"/><rect x="722.8" y="259.3" width="2.6" height="2.6" fill="#006400" fill-opacity="0.18"/><rect x="720.7" y="314.1" width="2.6" height="2.6" fill="#006400" fill-opacity="0.18"/><rect x="727.7" y="252.5" width="2.6" height="2.6" fill="#006400" fill-opacity="0.1"/><rect x="731.1" y="129.1" width="2.6" height="2.6" fill="#006400" fill-opacity="0.1"/><rect x="722.7" y="167.9" width="2.6" height="2.6" fill="#006400" fill-opacity="0.18"/><rect x="722.6" y="250.9" width="2.6" height="2.6" fill="#006400" fill-opacity="0.14"/><rect x="726.8" y="268.1" width="2.6" height="2.6" fill="#006400" fill-opacity="0.14"/><rect x="732.4" y="92.8" width="2.6" height="2.6" fill="#006400" fill-opacity="0.23"/><rect x="736.3" y="176.0" width="2.6" height="2.6" fill="#006400" fill-opacity="0.18"/><rect x="715.7" y="238.8" width="2.6" height="2.6" fill="#006400" fill-opacity="0.18"/><rect x="729.8" y="264.4" width="2.6" height="2.6" fill="#006400" fill-opacity="0.23"/><rect x="716.5" y="290.9" width="2.6" height="2.6" fill="#006400" fill-opacity="0.1"/><rect x="716.8" y="236.6" width="2.6" height="2.6" fill="#006400" fill-opacity="0.1"/><rect x="738.0" y="79.6" width="2.6" height="2.6" fill="#006400" fill-opacity="0.14"/><rect x="730.8" y="259.5" width="2.6" height="2.6" fill="#006400" fill-opacity="0.23"/><rect x="722.8" y="302.4" width="2.6" height="2.6" fill="#006400" fill-opacity="0.18"/><rect x="761.2" y="200.0" width="22.8" height="122.5" fill="url(#g5)"/><rect x="804.8" y="179.0" width="23.8" height="143.5" fill="url(#g6)"/><rect x="908.8" y="319.6" width="2.6" height="2.6" fill="#006400" fill-opacity="0.23"/><rect x="911.7" y="298.8" width="2.6" height="2.6" fill="#006400" fill-opacity="0.23"/><rect x="895.6" y="290.4" width="2.6" height="2.6" fill="#006400" fill-opacity="0.1"/><rect x="894.4" y="290.2" width="2.6" height="2.6" fill="#006400" fill-opacity="0.18"/><rect x="904.7" y="304.3" width="2.6" height="2.6" fill="#006400" fill-opacity="0.23"/><rect x="914.7" y="318.0" width="2.6" height="2.6" fill="#006400" fill-opacity="0.18"/><rect x="896.6" y="319.0" width="2.6" height="2.6" fill="#006400" fill-opacity="0.1"/><rect x="911.6" y="296.4" width="2.6" height="2.6" fill="#006400" fill-opacity="0.14"/><rect x="899.2" y="314.4" width="2.6" height="2.6" fill="#006400" fill-opacity="0.23"/><rect x="913.2" y="303.7" width="2.6" height="2.6" fill="#006400" fill-opacity="0.23"/><rect x="891.6" y="309.8" width="2.6" height="2.6" fill="#006400" fill-opacity="0.1"/><rect x="905.1" y="313.9" width="2.6" height="2.6" fill="#006400" fill-opacity="0.18"/><rect x="905.4" y="306.9" width="2.6" height="2.6" fill="#006400" fill-opacity="0.14"/><rect x="894.0" y="275.3" width="2.6" height="2.6" fill="#006400" fill-opacity="0.14"/><rect x="892.1" y="301.7" width="2.6" height="2.6" fill="#006400" fill-opacity="0.1"/><rect x="892.4" y="290.1" width="2.6" height="2.6" fill="#006400" fill-opacity="0.1"/><rect x="905.6" y="300.1" width="2.6" height="2.6" fill="#006400" fill-opacity="0.18"/><rect x="904.2" y="297.6" width="2.6" height="2.6" fill="#006400" fill-opacity="0.1"/><rect x="908.5" y="314.6" width="2.6" height="2.6" fill="#006400" fill-opacity="0.23"/><rect x="894.1" y="279.6" width="2.6" height="2.6" fill="#006400" fill-opacity="0.1"/><rect x="909.5" y="317.8" width="2.6" height="2.6" fill="#006400" fill-opacity="0.1"/><rect x="898.3" y="312.0" width="2.6" height="2.6" fill="#006400" fill-opacity="0.1"/><rect x="906.9" y="293.7" width="2.6" height="2.6" fill="#006400" fill-opacity="0.18"/><rect x="891.9" y="307.6" width="2.6" height="2.6" fill="#006400" fill-opacity="0.18"/><rect x="909.6" y="299.7" width="2.6" height="2.6" fill="#006400" fill-opacity="0.18"/><rect x="902.8" y="311.3" width="2.6" height="2.6" fill="#006400" fill-opacity="0.18"/><rect x="901.3" y="299.4" width="2.6" height="2.6" fill="#006400" fill-opacity="0.23"/><rect x="902.7" y="300.8" width="2.6" height="2.6" fill="#006400" fill-opacity="0.1"/><rect x="912.1" y="303.2" width="2.6" height="2.6" fill="#006400" fill-opacity="0.1"/><rect x="901.9" y="304.7" width="2.6" height="2.6" fill="#006400" fill-opacity="0.14"/><rect x="892.7" y="292.7" width="2.6" height="2.6" fill="#006400" fill-opacity="0.18"/><rect x="910.5" y="309.0" width="2.6" height="2.6" fill="#006400" fill-opacity="0.14"/><rect x="914.4" y="311.1" width="2.6" height="2.6" fill="#006400" fill-opacity="0.18"/><rect x="911.0" y="302.0" width="2.6" height="2.6" fill="#006400" fill-opacity="0.14"/><rect x="906.7" y="301.0" width="2.6" height="2.6" fill="#006400" fill-opacity="0.1"/><rect x="904.9" y="319.5" width="2.6" height="2.6" fill="#006400" fill-opacity="0.1"/><rect x="901.0" y="306.2" width="2.6" height="2.6" fill="#006400" fill-opacity="0.23"/><rect x="901.5" y="314.3" width="2.6" height="2.6" fill="#006400" fill-opacity="0.1"/><rect x="901.7" y="305.1" width="2.6" height="2.6" fill="#006400" fill-opacity="0.14"/><rect x="897.0" y="317.3" width="2.6" height="2.6" fill="#006400" fill-opacity="0.23"/><rect x="907.9" y="289.0" width="2.6" height="2.6" fill="#006400" fill-opacity="0.1"/><rect x="895.1" y="305.6" width="2.6" height="2.6" fill="#006400" fill-opacity="0.23"/><rect x="895.5" y="314.3" width="2.6" height="2.6" fill="#006400" fill-opacity="0.23"/><rect x="896.9" y="304.1" width="2.6" height="2.6" fill="#006400" fill-opacity="0.18"/><rect x="897.1" y="317.3" width="2.6" height="2.6" fill="#006400" fill-opacity="0.14"/><rect x="911.2" y="292.8" width="2.6" height="2.6" fill="#006400" fill-opacity="0.14"/><rect x="908.8" y="319.2" width="2.6" height="2.6" fill="#006400" fill-opacity="0.18"/><rect x="895.9" y="282.6" width="2.6" height="2.6" fill="#006400" fill-opacity="0.1"/><rect x="896.1" y="290.5" width="2.6" height="2.6" fill="#006400" fill-opacity="0.14"/><rect x="909.0" y="315.4" width="2.6" height="2.6" fill="#006400" fill-opacity="0.23"/><rect x="937.4" y="295.0" width="22.8" height="26.5" fill="url(#g7)"/><rect x="980.8" y="303.0" width="23.8" height="18.5" fill="url(#g8)"/><line x1="728.7" y1="104.5" x2="728.7" y2="218.5" stroke="#000" stroke-width="2.2"/><line x1="728.7" y1="300.1" x2="728.7" y2="320.6" stroke="#000" stroke-width="2.2"/><rect x="708.9" y="219.6" width="39.6" height="79.4" fill="#006400" fill-opacity="0.5" stroke="#000" stroke-width="2.2"/><line x1="708.8" y1="272.3" x2="748.6" y2="272.3" stroke="#000" stroke-width="4.4"/><line x1="772.6" y1="294.9" x2="772.6" y2="308.1" stroke="#000" stroke-width="2.2"/><line x1="772.6" y1="318.9" x2="772.6" y2="321.0" stroke="#000" stroke-width="2.2"/><rect x="752.8" y="309.2" width="39.6" height="8.6" fill="#00CD66" fill-opacity="0.5" stroke="#000" stroke-width="2.2"/><line x1="752.7" y1="315.6" x2="792.5" y2="315.6" stroke="#000" stroke-width="4.4"/><line x1="816.7" y1="313.7" x2="816.7" y2="319.4" stroke="#000" stroke-width="2.2"/><rect x="795.8" y="317.10" width="41.8" height="4.6" rx="1.2" fill="#000"/><line x1="904.7" y1="314.0" x2="904.7" y2="319.1" stroke="#000" stroke-width="2.2"/><rect x="883.8" y="316.40" width="41.8" height="5.4" rx="1.2" fill="#000"/><line x1="948.8" y1="312.7" x2="948.8" y2="319.1" stroke="#000" stroke-width="2.2"/><rect x="927.9" y="316.40" width="41.8" height="5.4" rx="1.2" fill="#000"/><line x1="992.7" y1="314.5" x2="992.7" y2="319.1" stroke="#000" stroke-width="2.2"/><rect x="971.8" y="316.40" width="41.8" height="5.4" rx="1.2" fill="#000"/><line x1="670.60" y1="42.1" x2="670.60" y2="332.1" stroke="#d6d6d6" stroke-width="1"/><rect x="668.80" y="40.80" width="383.90" height="292.60" fill="none" stroke="#000" stroke-width="2.6"/><line x1="655.0" y1="52.2" x2="668.0" y2="52.2" stroke="#333" stroke-width="4.2"/><line x1="655.0" y1="141.5" x2="668.0" y2="141.5" stroke="#333" stroke-width="4.2"/><line x1="655.0" y1="231.6" x2="668.0" y2="231.6" stroke="#333" stroke-width="4.2"/><line x1="655.0" y1="320.9" x2="668.0" y2="320.9" stroke="#333" stroke-width="4.2"/><line x1="772.6" y1="334.2" x2="772.6" y2="346.7" stroke="#333" stroke-width="4.2"/><line x1="948.8" y1="334.2" x2="948.8" y2="346.7" stroke="#333" stroke-width="4.2"/><rect x="208.9" y="473.0" width="2.6" height="2.6" fill="#006400" fill-opacity="0.18"/><rect x="187.8" y="450.7" width="2.6" height="2.6" fill="#006400" fill-opacity="0.23"/><rect x="192.3" y="519.5" width="2.6" height="2.6" fill="#006400" fill-opacity="0.18"/><rect x="201.5" y="474.0" width="2.6" height="2.6" fill="#006400" fill-opacity="0.23"/><rect x="207.5" y="446.2" width="2.6" height="2.6" fill="#006400" fill-opacity="0.23"/><rect x="202.7" y="529.5" width="2.6" height="2.6" fill="#006400" fill-opacity="0.14"/><rect x="197.9" y="489.6" width="2.6" height="2.6" fill="#006400" fill-opacity="0.18"/><rect x="208.5" y="491.5" width="2.6" height="2.6" fill="#006400" fill-opacity="0.14"/><rect x="202.1" y="531.4" width="2.6" height="2.6" fill="#006400" fill-opacity="0.18"/><rect x="187.5" y="521.5" width="2.6" height="2.6" fill="#006400" fill-opacity="0.23"/><rect x="208.0" y="490.2" width="2.6" height="2.6" fill="#006400" fill-opacity="0.18"/><rect x="198.8" y="517.5" width="2.6" height="2.6" fill="#006400" fill-opacity="0.1"/><rect x="190.9" y="455.5" width="2.6" height="2.6" fill="#006400" fill-opacity="0.14"/><rect x="200.8" y="472.8" width="2.6" height="2.6" fill="#006400" fill-opacity="0.14"/><rect x="202.3" y="485.6" width="2.6" height="2.6" fill="#006400" fill-opacity="0.18"/><rect x="209.8" y="482.4" width="2.6" height="2.6" fill="#006400" fill-opacity="0.14"/><rect x="199.3" y="508.7" width="2.6" height="2.6" fill="#006400" fill-opacity="0.1"/><rect x="202.3" y="527.1" width="2.6" height="2.6" fill="#006400" fill-opacity="0.18"/><rect x="187.3" y="482.1" width="2.6" height="2.6" fill="#006400" fill-opacity="0.23"/><rect x="203.2" y="527.8" width="2.6" height="2.6" fill="#006400" fill-opacity="0.18"/><rect x="196.6" y="448.1" width="2.6" height="2.6" fill="#006400" fill-opacity="0.14"/><rect x="198.1" y="542.0" width="2.6" height="2.6" fill="#006400" fill-opacity="0.14"/><rect x="206.4" y="462.7" width="2.6" height="2.6" fill="#006400" fill-opacity="0.14"/><rect x="192.4" y="487.1" width="2.6" height="2.6" fill="#006400" fill-opacity="0.14"/><rect x="206.6" y="489.5" width="2.6" height="2.6" fill="#006400" fill-opacity="0.23"/><rect x="200.2" y="478.8" width="2.6" height="2.6" fill="#006400" fill-opacity="0.14"/><rect x="205.8" y="520.9" width="2.6" height="2.6" fill="#006400" fill-opacity="0.14"/><rect x="193.1" y="481.3" width="2.6" height="2.6" fill="#006400" fill-opacity="0.23"/><rect x="206.3" y="484.6" width="2.6" height="2.6" fill="#006400" fill-opacity="0.18"/><rect x="194.7" y="490.0" width="2.6" height="2.6" fill="#006400" fill-opacity="0.23"/><rect x="202.8" y="489.5" width="2.6" height="2.6" fill="#006400" fill-opacity="0.18"/><rect x="196.2" y="448.1" width="2.6" height="2.6" fill="#006400" fill-opacity="0.1"/><rect x="205.8" y="539.7" width="2.6" height="2.6" fill="#006400" fill-opacity="0.14"/><rect x="201.0" y="480.4" width="2.6" height="2.6" fill="#006400" fill-opacity="0.1"/><rect x="194.0" y="440.9" width="2.6" height="2.6" fill="#006400" fill-opacity="0.1"/><rect x="191.5" y="496.3" width="2.6" height="2.6" fill="#006400" fill-opacity="0.23"/><rect x="208.7" y="474.4" width="2.6" height="2.6" fill="#006400" fill-opacity="0.14"/><rect x="210.5" y="491.1" width="2.6" height="2.6" fill="#006400" fill-opacity="0.1"/><rect x="205.9" y="497.5" width="2.6" height="2.6" fill="#006400" fill-opacity="0.18"/><rect x="199.7" y="460.1" width="2.6" height="2.6" fill="#006400" fill-opacity="0.23"/><rect x="189.8" y="473.2" width="2.6" height="2.6" fill="#006400" fill-opacity="0.23"/><rect x="198.8" y="473.9" width="2.6" height="2.6" fill="#006400" fill-opacity="0.1"/><rect x="203.8" y="497.9" width="2.6" height="2.6" fill="#006400" fill-opacity="0.14"/><rect x="207.7" y="486.4" width="2.6" height="2.6" fill="#006400" fill-opacity="0.1"/><rect x="203.7" y="448.6" width="2.6" height="2.6" fill="#006400" fill-opacity="0.23"/><rect x="196.0" y="495.8" width="2.6" height="2.6" fill="#006400" fill-opacity="0.23"/><rect x="191.3" y="529.8" width="2.6" height="2.6" fill="#006400" fill-opacity="0.18"/><rect x="201.6" y="470.5" width="2.6" height="2.6" fill="#006400" fill-opacity="0.18"/><rect x="198.6" y="504.8" width="2.6" height="2.6" fill="#006400" fill-opacity="0.14"/><rect x="202.0" y="460.9" width="2.6" height="2.6" fill="#006400" fill-opacity="0.18"/><rect x="195.2" y="459.1" width="2.6" height="2.6" fill="#006400" fill-opacity="0.14"/><rect x="193.0" y="480.3" width="2.6" height="2.6" fill="#006400" fill-opacity="0.1"/><rect x="206.9" y="513.4" width="2.6" height="2.6" fill="#006400" fill-opacity="0.23"/><rect x="208.0" y="500.3" width="2.6" height="2.6" fill="#006400" fill-opacity="0.18"/><rect x="206.0" y="528.9" width="2.6" height="2.6" fill="#006400" fill-opacity="0.18"/><rect x="190.1" y="460.7" width="2.6" height="2.6" fill="#006400" fill-opacity="0.1"/><rect x="204.3" y="502.5" width="2.6" height="2.6" fill="#006400" fill-opacity="0.23"/><rect x="194.2" y="471.2" width="2.6" height="2.6" fill="#006400" fill-opacity="0.1"/><rect x="198.4" y="464.1" width="2.6" height="2.6" fill="#006400" fill-opacity="0.1"/><rect x="201.7" y="539.8" width="2.6" height="2.6" fill="#006400" fill-opacity="0.14"/><rect x="201.3" y="491.3" width="2.6" height="2.6" fill="#006400" fill-opacity="0.1"/><rect x="198.0" y="459.3" width="2.6" height="2.6" fill="#006400" fill-opacity="0.14"/><rect x="187.9" y="444.3" width="2.6" height="2.6" fill="#006400" fill-opacity="0.1"/><rect x="195.9" y="528.9" width="2.6" height="2.6" fill="#006400" fill-opacity="0.14"/><rect x="193.2" y="524.9" width="2.6" height="2.6" fill="#006400" fill-opacity="0.18"/><rect x="187.5" y="439.8" width="2.6" height="2.6" fill="#006400" fill-opacity="0.1"/><rect x="206.8" y="485.9" width="2.6" height="2.6" fill="#006400" fill-opacity="0.23"/><rect x="197.7" y="498.3" width="2.6" height="2.6" fill="#006400" fill-opacity="0.1"/><rect x="210.8" y="488.1" width="2.6" height="2.6" fill="#006400" fill-opacity="0.14"/><rect x="189.4" y="482.5" width="2.6" height="2.6" fill="#006400" fill-opacity="0.23"/><rect x="187.4" y="443.4" width="2.6" height="2.6" fill="#006400" fill-opacity="0.1"/><rect x="210.7" y="459.4" width="2.6" height="2.6" fill="#006400" fill-opacity="0.1"/><rect x="198.3" y="442.4" width="2.6" height="2.6" fill="#006400" fill-opacity="0.18"/><rect x="204.6" y="477.2" width="2.6" height="2.6" fill="#006400" fill-opacity="0.14"/><rect x="204.9" y="516.5" width="2.6" height="2.6" fill="#006400" fill-opacity="0.14"/><rect x="202.1" y="504.4" width="2.6" height="2.6" fill="#006400" fill-opacity="0.23"/><rect x="193.1" y="498.7" width="2.6" height="2.6" fill="#006400" fill-opacity="0.1"/><rect x="187.4" y="470.0" width="2.6" height="2.6" fill="#006400" fill-opacity="0.1"/><rect x="201.4" y="479.3" width="2.6" height="2.6" fill="#006400" fill-opacity="0.23"/><rect x="209.8" y="479.5" width="2.6" height="2.6" fill="#006400" fill-opacity="0.23"/><rect x="210.2" y="474.8" width="2.6" height="2.6" fill="#006400" fill-opacity="0.1"/><rect x="202.1" y="489.7" width="2.6" height="2.6" fill="#006400" fill-opacity="0.23"/><rect x="197.9" y="493.9" width="2.6" height="2.6" fill="#006400" fill-opacity="0.18"/><rect x="194.0" y="525.1" width="2.6" height="2.6" fill="#006400" fill-opacity="0.1"/><rect x="206.2" y="489.9" width="2.6" height="2.6" fill="#006400" fill-opacity="0.18"/><rect x="187.4" y="531.9" width="2.6" height="2.6" fill="#006400" fill-opacity="0.14"/><rect x="197.3" y="479.2" width="2.6" height="2.6" fill="#006400" fill-opacity="0.14"/><rect x="201.4" y="491.0" width="2.6" height="2.6" fill="#006400" fill-opacity="0.14"/><rect x="187.0" y="513.0" width="2.6" height="2.6" fill="#006400" fill-opacity="0.18"/><rect x="209.1" y="474.5" width="2.6" height="2.6" fill="#006400" fill-opacity="0.1"/><rect x="208.4" y="474.0" width="2.6" height="2.6" fill="#006400" fill-opacity="0.14"/><rect x="206.4" y="496.2" width="2.6" height="2.6" fill="#006400" fill-opacity="0.23"/><rect x="200.3" y="472.3" width="2.6" height="2.6" fill="#006400" fill-opacity="0.23"/><rect x="209.4" y="461.9" width="2.6" height="2.6" fill="#006400" fill-opacity="0.14"/><rect x="196.5" y="471.4" width="2.6" height="2.6" fill="#006400" fill-opacity="0.14"/><rect x="187.2" y="526.0" width="2.6" height="2.6" fill="#006400" fill-opacity="0.23"/><rect x="206.4" y="472.3" width="2.6" height="2.6" fill="#006400" fill-opacity="0.1"/><rect x="208.5" y="487.7" width="2.6" height="2.6" fill="#006400" fill-opacity="0.18"/><rect x="191.5" y="488.0" width="2.6" height="2.6" fill="#006400" fill-opacity="0.14"/><rect x="194.0" y="463.6" width="2.6" height="2.6" fill="#006400" fill-opacity="0.18"/><rect x="190.6" y="485.7" width="2.6" height="2.6" fill="#006400" fill-opacity="0.1"/><rect x="207.8" y="522.0" width="2.6" height="2.6" fill="#006400" fill-opacity="0.18"/><rect x="190.7" y="494.2" width="2.6" height="2.6" fill="#006400" fill-opacity="0.1"/><rect x="187.5" y="485.8" width="2.6" height="2.6" fill="#006400" fill-opacity="0.1"/><rect x="200.6" y="465.6" width="2.6" height="2.6" fill="#006400" fill-opacity="0.14"/><rect x="197.2" y="493.9" width="2.6" height="2.6" fill="#006400" fill-opacity="0.23"/><rect x="210.1" y="535.9" width="2.6" height="2.6" fill="#006400" fill-opacity="0.18"/><rect x="210.9" y="515.3" width="2.6" height="2.6" fill="#006400" fill-opacity="0.23"/><rect x="200.4" y="440.3" width="2.6" height="2.6" fill="#006400" fill-opacity="0.23"/><rect x="208.5" y="496.0" width="2.6" height="2.6" fill="#006400" fill-opacity="0.23"/><rect x="189.2" y="531.1" width="2.6" height="2.6" fill="#006400" fill-opacity="0.18"/><rect x="210.0" y="489.6" width="2.6" height="2.6" fill="#006400" fill-opacity="0.23"/><rect x="195.9" y="465.0" width="2.6" height="2.6" fill="#006400" fill-opacity="0.14"/><rect x="187.9" y="510.3" width="2.6" height="2.6" fill="#006400" fill-opacity="0.18"/><rect x="200.3" y="503.3" width="2.6" height="2.6" fill="#006400" fill-opacity="0.1"/><rect x="205.9" y="502.8" width="2.6" height="2.6" fill="#006400" fill-opacity="0.23"/><rect x="205.1" y="443.2" width="2.6" height="2.6" fill="#006400" fill-opacity="0.14"/><rect x="201.2" y="478.9" width="2.6" height="2.6" fill="#006400" fill-opacity="0.1"/><rect x="196.4" y="481.2" width="2.6" height="2.6" fill="#006400" fill-opacity="0.18"/><rect x="192.7" y="474.9" width="2.6" height="2.6" fill="#006400" fill-opacity="0.14"/><rect x="198.2" y="539.1" width="2.6" height="2.6" fill="#006400" fill-opacity="0.14"/><rect x="207.0" y="507.5" width="2.6" height="2.6" fill="#006400" fill-opacity="0.1"/><rect x="208.3" y="538.0" width="2.6" height="2.6" fill="#006400" fill-opacity="0.14"/><rect x="209.2" y="541.9" width="2.6" height="2.6" fill="#006400" fill-opacity="0.23"/><rect x="197.9" y="527.8" width="2.6" height="2.6" fill="#006400" fill-opacity="0.18"/><rect x="189.8" y="476.9" width="2.6" height="2.6" fill="#006400" fill-opacity="0.18"/><rect x="188.4" y="445.5" width="2.6" height="2.6" fill="#006400" fill-opacity="0.23"/><rect x="207.9" y="474.1" width="2.6" height="2.6" fill="#006400" fill-opacity="0.18"/><rect x="187.6" y="477.3" width="2.6" height="2.6" fill="#006400" fill-opacity="0.18"/><rect x="198.8" y="474.8" width="2.6" height="2.6" fill="#006400" fill-opacity="0.18"/><rect x="190.7" y="484.7" width="2.6" height="2.6" fill="#006400" fill-opacity="0.1"/><rect x="209.2" y="494.2" width="2.6" height="2.6" fill="#006400" fill-opacity="0.23"/><rect x="205.1" y="505.9" width="2.6" height="2.6" fill="#006400" fill-opacity="0.18"/><rect x="192.7" y="477.8" width="2.6" height="2.6" fill="#006400" fill-opacity="0.14"/><rect x="208.5" y="447.6" width="2.6" height="2.6" fill="#006400" fill-opacity="0.1"/><rect x="190.5" y="542.8" width="2.6" height="2.6" fill="#006400" fill-opacity="0.1"/><rect x="199.3" y="485.4" width="2.6" height="2.6" fill="#006400" fill-opacity="0.23"/><rect x="199.6" y="464.4" width="2.6" height="2.6" fill="#006400" fill-opacity="0.14"/><rect x="196.8" y="470.9" width="2.6" height="2.6" fill="#006400" fill-opacity="0.18"/><rect x="191.3" y="473.9" width="2.6" height="2.6" fill="#006400" fill-opacity="0.14"/><rect x="188.9" y="475.7" width="2.6" height="2.6" fill="#006400" fill-opacity="0.1"/><rect x="205.3" y="532.2" width="2.6" height="2.6" fill="#006400" fill-opacity="0.14"/><rect x="204.0" y="457.6" width="2.6" height="2.6" fill="#006400" fill-opacity="0.14"/><rect x="188.6" y="475.9" width="2.6" height="2.6" fill="#006400" fill-opacity="0.23"/><rect x="199.4" y="540.1" width="2.6" height="2.6" fill="#006400" fill-opacity="0.18"/><rect x="207.7" y="495.9" width="2.6" height="2.6" fill="#006400" fill-opacity="0.23"/><rect x="205.3" y="451.4" width="2.6" height="2.6" fill="#006400" fill-opacity="0.14"/><rect x="191.5" y="512.2" width="2.6" height="2.6" fill="#006400" fill-opacity="0.18"/><rect x="200.8" y="460.4" width="2.6" height="2.6" fill="#006400" fill-opacity="0.1"/><rect x="210.2" y="498.7" width="2.6" height="2.6" fill="#006400" fill-opacity="0.1"/><rect x="206.6" y="460.8" width="2.6" height="2.6" fill="#006400" fill-opacity="0.18"/><rect x="200.8" y="538.0" width="2.6" height="2.6" fill="#006400" fill-opacity="0.1"/><rect x="204.5" y="473.0" width="2.6" height="2.6" fill="#006400" fill-opacity="0.23"/><rect x="199.9" y="486.2" width="2.6" height="2.6" fill="#006400" fill-opacity="0.1"/><rect x="201.9" y="472.4" width="2.6" height="2.6" fill="#006400" fill-opacity="0.14"/><rect x="206.6" y="446.4" width="2.6" height="2.6" fill="#006400" fill-opacity="0.1"/><rect x="204.7" y="467.3" width="2.6" height="2.6" fill="#006400" fill-opacity="0.18"/><rect x="200.8" y="457.2" width="2.6" height="2.6" fill="#006400" fill-opacity="0.14"/><rect x="207.9" y="472.8" width="2.6" height="2.6" fill="#006400" fill-opacity="0.14"/><rect x="198.8" y="442.5" width="2.6" height="2.6" fill="#006400" fill-opacity="0.18"/><rect x="208.2" y="442.5" width="2.6" height="2.6" fill="#006400" fill-opacity="0.14"/><rect x="200.7" y="507.1" width="2.6" height="2.6" fill="#006400" fill-opacity="0.23"/><rect x="233.1" y="412.0" width="22.8" height="216.0" fill="url(#g9)"/><rect x="276.6" y="357.5" width="23.8" height="294.5" fill="url(#g10)"/><rect x="385.9" y="441.2" width="2.6" height="2.6" fill="#006400" fill-opacity="0.23"/><rect x="377.9" y="461.4" width="2.6" height="2.6" fill="#006400" fill-opacity="0.1"/><rect x="382.0" y="471.2" width="2.6" height="2.6" fill="#006400" fill-opacity="0.18"/><rect x="380.6" y="468.3" width="2.6" height="2.6" fill="#006400" fill-opacity="0.18"/><rect x="364.7" y="513.4" width="2.6" height="2.6" fill="#006400" fill-opacity="0.14"/><rect x="369.4" y="517.6" width="2.6" height="2.6" fill="#006400" fill-opacity="0.23"/><rect x="366.0" y="444.6" width="2.6" height="2.6" fill="#006400" fill-opacity="0.14"/><rect x="375.5" y="434.3" width="2.6" height="2.6" fill="#006400" fill-opacity="0.1"/><rect x="372.9" y="456.3" width="2.6" height="2.6" fill="#006400" fill-opacity="0.23"/><rect x="384.6" y="467.4" width="2.6" height="2.6" fill="#006400" fill-opacity="0.1"/><rect x="369.8" y="438.0" width="2.6" height="2.6" fill="#006400" fill-opacity="0.18"/><rect x="364.3" y="467.4" width="2.6" height="2.6" fill="#006400" fill-opacity="0.1"/><rect x="373.8" y="459.2" width="2.6" height="2.6" fill="#006400" fill-opacity="0.1"/><rect x="378.9" y="453.0" width="2.6" height="2.6" fill="#006400" fill-opacity="0.1"/><rect x="385.5" y="443.6" width="2.6" height="2.6" fill="#006400" fill-opacity="0.18"/><rect x="385.8" y="437.1" width="2.6" height="2.6" fill="#006400" fill-opacity="0.23"/><rect x="370.4" y="429.0" width="2.6" height="2.6" fill="#006400" fill-opacity="0.23"/><rect x="381.1" y="452.1" width="2.6" height="2.6" fill="#006400" fill-opacity="0.18"/><rect x="377.1" y="502.1" width="2.6" height="2.6" fill="#006400" fill-opacity="0.23"/><rect x="374.5" y="439.2" width="2.6" height="2.6" fill="#006400" fill-opacity="0.18"/><rect x="370.9" y="457.7" width="2.6" height="2.6" fill="#006400" fill-opacity="0.14"/><rect x="376.5" y="449.7" width="2.6" height="2.6" fill="#006400" fill-opacity="0.23"/><rect x="384.1" y="432.9" width="2.6" height="2.6" fill="#006400" fill-opacity="0.14"/><rect x="369.9" y="453.6" width="2.6" height="2.6" fill="#006400" fill-opacity="0.14"/><rect x="367.2" y="466.4" width="2.6" height="2.6" fill="#006400" fill-opacity="0.1"/><rect x="379.2" y="454.3" width="2.6" height="2.6" fill="#006400" fill-opacity="0.23"/><rect x="381.7" y="489.8" width="2.6" height="2.6" fill="#006400" fill-opacity="0.14"/><rect x="385.8" y="505.3" width="2.6" height="2.6" fill="#006400" fill-opacity="0.23"/><rect x="379.6" y="454.4" width="2.6" height="2.6" fill="#006400" fill-opacity="0.18"/><rect x="381.1" y="497.6" width="2.6" height="2.6" fill="#006400" fill-opacity="0.23"/><rect x="378.6" y="462.3" width="2.6" height="2.6" fill="#006400" fill-opacity="0.14"/><rect x="373.3" y="447.3" width="2.6" height="2.6" fill="#006400" fill-opacity="0.1"/><rect x="377.1" y="471.8" width="2.6" height="2.6" fill="#006400" fill-opacity="0.23"/><rect x="378.3" y="486.3" width="2.6" height="2.6" fill="#006400" fill-opacity="0.1"/><rect x="374.4" y="457.2" width="2.6" height="2.6" fill="#006400" fill-opacity="0.18"/><rect x="376.7" y="455.5" width="2.6" height="2.6" fill="#006400" fill-opacity="0.23"/><rect x="381.3" y="444.5" width="2.6" height="2.6" fill="#006400" fill-opacity="0.23"/><rect x="376.3" y="452.9" width="2.6" height="2.6" fill="#006400" fill-opacity="0.14"/><rect x="369.0" y="455.1" width="2.6" height="2.6" fill="#006400" fill-opacity="0.18"/><rect x="383.5" y="468.4" width="2.6" height="2.6" fill="#006400" fill-opacity="0.18"/><rect x="385.3" y="434.2" width="2.6" height="2.6" fill="#006400" fill-opacity="0.1"/><rect x="384.9" y="431.2" width="2.6" height="2.6" fill="#006400" fill-opacity="0.18"/><rect x="376.3" y="509.9" width="2.6" height="2.6" fill="#006400" fill-opacity="0.23"/><rect x="379.8" y="459.1" width="2.6" height="2.6" fill="#006400" fill-opacity="0.23"/><rect x="379.6" y="445.5" width="2.6" height="2.6" fill="#006400" fill-opacity="0.23"/><rect x="376.0" y="505.2" width="2.6" height="2.6" fill="#006400" fill-opacity="0.1"/><rect x="379.0" y="458.6" width="2.6" height="2.6" fill="#006400" fill-opacity="0.14"/><rect x="375.1" y="519.0" width="2.6" height="2.6" fill="#006400" fill-opacity="0.23"/><rect x="377.5" y="515.9" width="2.6" height="2.6" fill="#006400" fill-opacity="0.1"/><rect x="386.9" y="432.3" width="2.6" height="2.6" fill="#006400" fill-opacity="0.18"/><rect x="384.9" y="447.5" width="2.6" height="2.6" fill="#006400" fill-opacity="0.18"/><rect x="384.7" y="520.2" width="2.6" height="2.6" fill="#006400" fill-opacity="0.23"/><rect x="383.0" y="459.3" width="2.6" height="2.6" fill="#006400" fill-opacity="0.14"/><rect x="367.8" y="449.7" width="2.6" height="2.6" fill="#006400" fill-opacity="0.1"/><rect x="378.7" y="472.7" width="2.6" height="2.6" fill="#006400" fill-opacity="0.1"/><rect x="363.5" y="444.6" width="2.6" height="2.6" fill="#006400" fill-opacity="0.1"/><rect x="365.8" y="491.9" width="2.6" height="2.6" fill="#006400" fill-opacity="0.1"/><rect x="375.3" y="449.9" width="2.6" height="2.6" fill="#006400" fill-opacity="0.18"/><rect x="375.7" y="515.7" width="2.6" height="2.6" fill="#006400" fill-opacity="0.14"/><rect x="366.3" y="456.1" width="2.6" height="2.6" fill="#006400" fill-opacity="0.14"/><rect x="364.1" y="458.9" width="2.6" height="2.6" fill="#006400" fill-opacity="0.1"/><rect x="383.2" y="435.9" width="2.6" height="2.6" fill="#006400" fill-opacity="0.23"/><rect x="363.7" y="475.9" width="2.6" height="2.6" fill="#006400" fill-opacity="0.18"/><rect x="370.0" y="430.9" width="2.6" height="2.6" fill="#006400" fill-opacity="0.1"/><rect x="385.1" y="447.1" width="2.6" height="2.6" fill="#006400" fill-opacity="0.1"/><rect x="372.7" y="457.2" width="2.6" height="2.6" fill="#006400" fill-opacity="0.1"/><rect x="381.7" y="455.6" width="2.6" height="2.6" fill="#006400" fill-opacity="0.1"/><rect x="369.4" y="462.0" width="2.6" height="2.6" fill="#006400" fill-opacity="0.1"/><rect x="367.6" y="437.0" width="2.6" height="2.6" fill="#006400" fill-opacity="0.1"/><rect x="370.7" y="511.9" width="2.6" height="2.6" fill="#006400" fill-opacity="0.18"/><rect x="386.2" y="496.6" width="2.6" height="2.6" fill="#006400" fill-opacity="0.14"/><rect x="377.4" y="463.6" width="2.6" height="2.6" fill="#006400" fill-opacity="0.23"/><rect x="375.0" y="469.3" width="2.6" height="2.6" fill="#006400" fill-opacity="0.14"/><rect x="372.5" y="429.7" width="2.6" height="2.6" fill="#006400" fill-opacity="0.1"/><rect x="376.9" y="486.8" width="2.6" height="2.6" fill="#006400" fill-opacity="0.1"/><rect x="371.5" y="469.2" width="2.6" height="2.6" fill="#006400" fill-opacity="0.1"/><rect x="385.3" y="493.1" width="2.6" height="2.6" fill="#006400" fill-opacity="0.14"/><rect x="371.7" y="457.7" width="2.6" height="2.6" fill="#006400" fill-opacity="0.23"/><rect x="371.6" y="438.4" width="2.6" height="2.6" fill="#006400" fill-opacity="0.14"/><rect x="368.1" y="448.0" width="2.6" height="2.6" fill="#006400" fill-opacity="0.14"/><rect x="382.5" y="457.7" width="2.6" height="2.6" fill="#006400" fill-opacity="0.14"/><rect x="380.7" y="432.9" width="2.6" height="2.6" fill="#006400" fill-opacity="0.23"/><rect x="370.5" y="460.9" width="2.6" height="2.6" fill="#006400" fill-opacity="0.23"/><rect x="374.3" y="450.8" width="2.6" height="2.6" fill="#006400" fill-opacity="0.14"/><rect x="377.7" y="520.6" width="2.6" height="2.6" fill="#006400" fill-opacity="0.23"/><rect x="369.3" y="454.8" width="2.6" height="2.6" fill="#006400" fill-opacity="0.14"/><rect x="379.7" y="439.9" width="2.6" height="2.6" fill="#006400" fill-opacity="0.1"/><rect x="381.9" y="452.0" width="2.6" height="2.6" fill="#006400" fill-opacity="0.23"/><rect x="366.9" y="439.3" width="2.6" height="2.6" fill="#006400" fill-opacity="0.1"/><rect x="367.6" y="446.8" width="2.6" height="2.6" fill="#006400" fill-opacity="0.14"/><rect x="366.0" y="463.3" width="2.6" height="2.6" fill="#006400" fill-opacity="0.18"/><rect x="368.0" y="509.2" width="2.6" height="2.6" fill="#006400" fill-opacity="0.18"/><rect x="383.0" y="431.8" width="2.6" height="2.6" fill="#006400" fill-opacity="0.23"/><rect x="385.2" y="455.8" width="2.6" height="2.6" fill="#006400" fill-opacity="0.14"/><rect x="372.2" y="481.3" width="2.6" height="2.6" fill="#006400" fill-opacity="0.18"/><rect x="380.3" y="474.1" width="2.6" height="2.6" fill="#006400" fill-opacity="0.23"/><rect x="371.9" y="468.5" width="2.6" height="2.6" fill="#006400" fill-opacity="0.1"/><rect x="385.3" y="428.7" width="2.6" height="2.6" fill="#006400" fill-opacity="0.14"/><rect x="364.4" y="445.5" width="2.6" height="2.6" fill="#006400" fill-opacity="0.14"/><rect x="367.1" y="465.9" width="2.6" height="2.6" fill="#006400" fill-opacity="0.1"/><rect x="386.0" y="462.3" width="2.6" height="2.6" fill="#006400" fill-opacity="0.14"/><rect x="369.5" y="464.8" width="2.6" height="2.6" fill="#006400" fill-opacity="0.23"/><rect x="385.9" y="460.8" width="2.6" height="2.6" fill="#006400" fill-opacity="0.1"/><rect x="370.3" y="510.0" width="2.6" height="2.6" fill="#006400" fill-opacity="0.1"/><rect x="380.1" y="500.9" width="2.6" height="2.6" fill="#006400" fill-opacity="0.14"/><rect x="371.0" y="445.4" width="2.6" height="2.6" fill="#006400" fill-opacity="0.18"/><rect x="380.1" y="477.0" width="2.6" height="2.6" fill="#006400" fill-opacity="0.23"/><rect x="368.7" y="502.3" width="2.6" height="2.6" fill="#006400" fill-opacity="0.1"/><rect x="374.0" y="471.5" width="2.6" height="2.6" fill="#006400" fill-opacity="0.18"/><rect x="383.3" y="465.4" width="2.6" height="2.6" fill="#006400" fill-opacity="0.23"/><rect x="368.3" y="463.7" width="2.6" height="2.6" fill="#006400" fill-opacity="0.14"/><rect x="386.3" y="449.7" width="2.6" height="2.6" fill="#006400" fill-opacity="0.18"/><rect x="382.1" y="429.6" width="2.6" height="2.6" fill="#006400" fill-opacity="0.14"/><rect x="364.8" y="451.4" width="2.6" height="2.6" fill="#006400" fill-opacity="0.18"/><rect x="378.7" y="446.9" width="2.6" height="2.6" fill="#006400" fill-opacity="0.14"/><rect x="379.5" y="439.1" width="2.6" height="2.6" fill="#006400" fill-opacity="0.14"/><rect x="380.0" y="444.5" width="2.6" height="2.6" fill="#006400" fill-opacity="0.14"/><rect x="370.6" y="489.7" width="2.6" height="2.6" fill="#006400" fill-opacity="0.14"/><rect x="378.5" y="451.2" width="2.6" height="2.6" fill="#006400" fill-opacity="0.1"/><rect x="367.5" y="466.1" width="2.6" height="2.6" fill="#006400" fill-opacity="0.14"/><rect x="381.8" y="457.5" width="2.6" height="2.6" fill="#006400" fill-opacity="0.14"/><rect x="372.1" y="431.8" width="2.6" height="2.6" fill="#006400" fill-opacity="0.14"/><rect x="370.7" y="442.5" width="2.6" height="2.6" fill="#006400" fill-opacity="0.1"/><rect x="366.1" y="457.1" width="2.6" height="2.6" fill="#006400" fill-opacity="0.18"/><rect x="370.3" y="460.6" width="2.6" height="2.6" fill="#006400" fill-opacity="0.1"/><rect x="386.9" y="434.9" width="2.6" height="2.6" fill="#006400" fill-opacity="0.23"/><rect x="386.9" y="439.3" width="2.6" height="2.6" fill="#006400" fill-opacity="0.18"/><rect x="373.8" y="435.3" width="2.6" height="2.6" fill="#006400" fill-opacity="0.14"/><rect x="372.0" y="488.3" width="2.6" height="2.6" fill="#006400" fill-opacity="0.1"/><rect x="385.8" y="462.3" width="2.6" height="2.6" fill="#006400" fill-opacity="0.18"/><rect x="381.3" y="446.5" width="2.6" height="2.6" fill="#006400" fill-opacity="0.1"/><rect x="370.5" y="513.0" width="2.6" height="2.6" fill="#006400" fill-opacity="0.14"/><rect x="384.9" y="498.0" width="2.6" height="2.6" fill="#006400" fill-opacity="0.14"/><rect x="370.8" y="439.4" width="2.6" height="2.6" fill="#006400" fill-opacity="0.18"/><rect x="371.9" y="462.8" width="2.6" height="2.6" fill="#006400" fill-opacity="0.14"/><rect x="372.3" y="460.1" width="2.6" height="2.6" fill="#006400" fill-opacity="0.18"/><rect x="377.0" y="445.5" width="2.6" height="2.6" fill="#006400" fill-opacity="0.23"/><rect x="375.3" y="518.1" width="2.6" height="2.6" fill="#006400" fill-opacity="0.23"/><rect x="377.9" y="520.5" width="2.6" height="2.6" fill="#006400" fill-opacity="0.1"/><rect x="366.7" y="430.7" width="2.6" height="2.6" fill="#006400" fill-opacity="0.23"/><rect x="373.9" y="427.4" width="2.6" height="2.6" fill="#006400" fill-opacity="0.14"/><rect x="364.2" y="433.3" width="2.6" height="2.6" fill="#006400" fill-opacity="0.23"/><rect x="364.7" y="428.0" width="2.6" height="2.6" fill="#006400" fill-opacity="0.23"/><rect x="363.6" y="475.9" width="2.6" height="2.6" fill="#006400" fill-opacity="0.14"/><rect x="370.5" y="480.8" width="2.6" height="2.6" fill="#006400" fill-opacity="0.23"/><rect x="377.0" y="505.2" width="2.6" height="2.6" fill="#006400" fill-opacity="0.23"/><rect x="374.5" y="432.4" width="2.6" height="2.6" fill="#006400" fill-opacity="0.14"/><rect x="378.3" y="518.9" width="2.6" height="2.6" fill="#006400" fill-opacity="0.1"/><rect x="379.2" y="488.7" width="2.6" height="2.6" fill="#006400" fill-opacity="0.23"/><rect x="378.9" y="495.9" width="2.6" height="2.6" fill="#006400" fill-opacity="0.18"/><rect x="378.6" y="498.3" width="2.6" height="2.6" fill="#006400" fill-opacity="0.14"/><rect x="380.0" y="465.5" width="2.6" height="2.6" fill="#006400" fill-opacity="0.14"/><rect x="377.3" y="454.9" width="2.6" height="2.6" fill="#006400" fill-opacity="0.23"/><rect x="374.0" y="451.2" width="2.6" height="2.6" fill="#006400" fill-opacity="0.18"/><rect x="384.8" y="429.9" width="2.6" height="2.6" fill="#006400" fill-opacity="0.1"/><rect x="379.0" y="468.2" width="2.6" height="2.6" fill="#006400" fill-opacity="0.14"/><rect x="375.1" y="451.5" width="2.6" height="2.6" fill="#006400" fill-opacity="0.23"/><rect x="366.1" y="460.7" width="2.6" height="2.6" fill="#006400" fill-opacity="0.1"/><rect x="382.6" y="505.4" width="2.6" height="2.6" fill="#006400" fill-opacity="0.14"/><rect x="380.6" y="499.2" width="2.6" height="2.6" fill="#006400" fill-opacity="0.1"/><rect x="375.8" y="471.8" width="2.6" height="2.6" fill="#006400" fill-opacity="0.23"/><rect x="367.5" y="491.6" width="2.6" height="2.6" fill="#006400" fill-opacity="0.14"/><rect x="409.5" y="414.0" width="22.8" height="172.0" fill="url(#g11)"/><rect x="453.1" y="357.5" width="23.8" height="294.5" fill="url(#g12)"/><line x1="200.29999999999998" y1="448.3" x2="200.29999999999998" y2="470.9" stroke="#000" stroke-width="2.2"/><line x1="200.29999999999998" y1="502.1" x2="200.29999999999998" y2="540.1" stroke="#000" stroke-width="2.2"/><rect x="180.5" y="472.0" width="39.6" height="29.0" fill="#006400" fill-opacity="0.5" stroke="#000" stroke-width="2.2"/><line x1="180.4" y1="480.5" x2="220.2" y2="480.5" stroke="#000" stroke-width="4.4"/><line x1="244.5" y1="424.8" x2="244.5" y2="470.9" stroke="#000" stroke-width="2.2"/><line x1="244.5" y1="504.7" x2="244.5" y2="555.6" stroke="#000" stroke-width="2.2"/><rect x="224.7" y="472.0" width="39.6" height="31.6" fill="#00CD66" fill-opacity="0.5" stroke="#000" stroke-width="2.2"/><line x1="224.6" y1="482.1" x2="264.4" y2="482.1" stroke="#000" stroke-width="4.4"/><line x1="288.5" y1="414.5" x2="288.5" y2="468.0" stroke="#000" stroke-width="2.2"/><line x1="288.5" y1="504.7" x2="288.5" y2="557.9" stroke="#000" stroke-width="2.2"/><rect x="268.7" y="469.1" width="39.6" height="34.5" fill="#90EE90" fill-opacity="0.5" stroke="#000" stroke-width="2.2"/><line x1="268.6" y1="479.6" x2="308.4" y2="479.6" stroke="#000" stroke-width="4.4"/><line x1="376.7" y1="428.8" x2="376.7" y2="445.6" stroke="#000" stroke-width="2.2"/><line x1="376.7" y1="474.2" x2="376.7" y2="512.5" stroke="#000" stroke-width="2.2"/><rect x="356.9" y="446.7" width="39.6" height="26.4" fill="#006400" fill-opacity="0.5" stroke="#000" stroke-width="2.2"/><line x1="356.8" y1="456.8" x2="396.6" y2="456.8" stroke="#000" stroke-width="4.4"/><line x1="420.9" y1="412.0" x2="420.9" y2="445.6" stroke="#000" stroke-width="2.2"/><line x1="420.9" y1="472.2" x2="420.9" y2="509.7" stroke="#000" stroke-width="2.2"/><rect x="401.1" y="446.7" width="39.6" height="24.4" fill="#00CD66" fill-opacity="0.5" stroke="#000" stroke-width="2.2"/><line x1="401.0" y1="456.0" x2="440.8" y2="456.0" stroke="#000" stroke-width="4.4"/><line x1="465.0" y1="402.4" x2="465.0" y2="443.2" stroke="#000" stroke-width="2.2"/><line x1="465.0" y1="473.0" x2="465.0" y2="514.4" stroke="#000" stroke-width="2.2"/><rect x="445.2" y="444.3" width="39.6" height="27.6" fill="#90EE90" fill-opacity="0.5" stroke="#000" stroke-width="2.2"/><line x1="445.1" y1="456.0" x2="484.9" y2="456.0" stroke="#000" stroke-width="4.4"/><line x1="142.20" y1="359.5" x2="142.20" y2="649.7" stroke="#d6d6d6" stroke-width="1"/><rect x="140.40" y="358.20" width="384.10" height="292.80" fill="none" stroke="#000" stroke-width="2.6"/><line x1="126.6" y1="370.7" x2="139.6" y2="370.7" stroke="#333" stroke-width="4.2"/><line x1="126.6" y1="437.7" x2="139.6" y2="437.7" stroke="#333" stroke-width="4.2"/><line x1="126.6" y1="504.7" x2="139.6" y2="504.7" stroke="#333" stroke-width="4.2"/><line x1="126.6" y1="571.7" x2="139.6" y2="571.7" stroke="#333" stroke-width="4.2"/><line x1="126.6" y1="639.0" x2="139.6" y2="639.0" stroke="#333" stroke-width="4.2"/><line x1="244.5" y1="651.8" x2="244.5" y2="664.3" stroke="#333" stroke-width="4.2"/><line x1="420.9" y1="651.8" x2="420.9" y2="664.3" stroke="#333" stroke-width="4.2"/><rect x="718.7" y="528.0" width="2.6" height="2.6" fill="#006400" fill-opacity="0.1"/><rect x="716.4" y="480.5" width="2.6" height="2.6" fill="#006400" fill-opacity="0.14"/><rect x="718.7" y="485.3" width="2.6" height="2.6" fill="#006400" fill-opacity="0.1"/><rect x="728.9" y="534.3" width="2.6" height="2.6" fill="#006400" fill-opacity="0.18"/><rect x="723.6" y="465.0" width="2.6" height="2.6" fill="#006400" fill-opacity="0.1"/><rect x="724.4" y="548.3" width="2.6" height="2.6" fill="#006400" fill-opacity="0.18"/><rect x="729.9" y="480.2" width="2.6" height="2.6" fill="#006400" fill-opacity="0.1"/><rect x="729.9" y="498.8" width="2.6" height="2.6" fill="#006400" fill-opacity="0.1"/><rect x="721.5" y="573.8" width="2.6" height="2.6" fill="#006400" fill-opacity="0.14"/><rect x="739.1" y="478.8" width="2.6" height="2.6" fill="#006400" fill-opacity="0.23"/><rect x="718.1" y="429.7" width="2.6" height="2.6" fill="#006400" fill-opacity="0.18"/><rect x="722.4" y="455.7" width="2.6" height="2.6" fill="#006400" fill-opacity="0.23"/><rect x="721.4" y="569.8" width="2.6" height="2.6" fill="#006400" fill-opacity="0.18"/><rect x="723.6" y="543.3" width="2.6" height="2.6" fill="#006400" fill-opacity="0.14"/><rect x="716.2" y="509.0" width="2.6" height="2.6" fill="#006400" fill-opacity="0.1"/><rect x="730.9" y="458.9" width="2.6" height="2.6" fill="#006400" fill-opacity="0.23"/><rect x="732.0" y="587.2" width="2.6" height="2.6" fill="#006400" fill-opacity="0.23"/><rect x="730.1" y="534.4" width="2.6" height="2.6" fill="#006400" fill-opacity="0.1"/><rect x="722.9" y="511.9" width="2.6" height="2.6" fill="#006400" fill-opacity="0.14"/><rect x="719.5" y="480.3" width="2.6" height="2.6" fill="#006400" fill-opacity="0.18"/><rect x="726.6" y="499.0" width="2.6" height="2.6" fill="#006400" fill-opacity="0.18"/><rect x="727.0" y="499.3" width="2.6" height="2.6" fill="#006400" fill-opacity="0.14"/><rect x="739.1" y="451.1" width="2.6" height="2.6" fill="#006400" fill-opacity="0.1"/><rect x="718.8" y="524.9" width="2.6" height="2.6" fill="#006400" fill-opacity="0.23"/><rect x="721.7" y="510.1" width="2.6" height="2.6" fill="#006400" fill-opacity="0.14"/><rect x="728.9" y="544.3" width="2.6" height="2.6" fill="#006400" fill-opacity="0.1"/><rect x="730.6" y="578.3" width="2.6" height="2.6" fill="#006400" fill-opacity="0.1"/><rect x="734.5" y="495.8" width="2.6" height="2.6" fill="#006400" fill-opacity="0.14"/><rect x="733.7" y="497.3" width="2.6" height="2.6" fill="#006400" fill-opacity="0.18"/><rect x="723.8" y="518.9" width="2.6" height="2.6" fill="#006400" fill-opacity="0.23"/><rect x="731.5" y="523.4" width="2.6" height="2.6" fill="#006400" fill-opacity="0.23"/><rect x="734.8" y="535.8" width="2.6" height="2.6" fill="#006400" fill-opacity="0.18"/><rect x="736.7" y="438.7" width="2.6" height="2.6" fill="#006400" fill-opacity="0.23"/><rect x="733.9" y="503.3" width="2.6" height="2.6" fill="#006400" fill-opacity="0.14"/><rect x="732.7" y="486.8" width="2.6" height="2.6" fill="#006400" fill-opacity="0.18"/><rect x="737.9" y="513.4" width="2.6" height="2.6" fill="#006400" fill-opacity="0.18"/><rect x="737.6" y="438.0" width="2.6" height="2.6" fill="#006400" fill-opacity="0.14"/><rect x="726.6" y="500.5" width="2.6" height="2.6" fill="#006400" fill-opacity="0.23"/><rect x="735.5" y="537.6" width="2.6" height="2.6" fill="#006400" fill-opacity="0.18"/><rect x="721.6" y="555.4" width="2.6" height="2.6" fill="#006400" fill-opacity="0.1"/><rect x="721.1" y="571.5" width="2.6" height="2.6" fill="#006400" fill-opacity="0.1"/><rect x="720.2" y="448.2" width="2.6" height="2.6" fill="#006400" fill-opacity="0.18"/><rect x="720.1" y="572.5" width="2.6" height="2.6" fill="#006400" fill-opacity="0.1"/><rect x="717.3" y="570.3" width="2.6" height="2.6" fill="#006400" fill-opacity="0.18"/><rect x="721.9" y="477.7" width="2.6" height="2.6" fill="#006400" fill-opacity="0.1"/><rect x="720.5" y="537.7" width="2.6" height="2.6" fill="#006400" fill-opacity="0.18"/><rect x="727.1" y="543.9" width="2.6" height="2.6" fill="#006400" fill-opacity="0.18"/><rect x="734.5" y="470.7" width="2.6" height="2.6" fill="#006400" fill-opacity="0.1"/><rect x="727.3" y="499.2" width="2.6" height="2.6" fill="#006400" fill-opacity="0.23"/><rect x="715.7" y="507.7" width="2.6" height="2.6" fill="#006400" fill-opacity="0.18"/><rect x="716.7" y="541.9" width="2.6" height="2.6" fill="#006400" fill-opacity="0.18"/><rect x="720.5" y="429.6" width="2.6" height="2.6" fill="#006400" fill-opacity="0.1"/><rect x="723.7" y="501.0" width="2.6" height="2.6" fill="#006400" fill-opacity="0.14"/><rect x="723.3" y="516.7" width="2.6" height="2.6" fill="#006400" fill-opacity="0.18"/><rect x="716.2" y="564.7" width="2.6" height="2.6" fill="#006400" fill-opacity="0.18"/><rect x="732.4" y="513.3" width="2.6" height="2.6" fill="#006400" fill-opacity="0.18"/><rect x="722.0" y="512.0" width="2.6" height="2.6" fill="#006400" fill-opacity="0.18"/><rect x="731.1" y="451.9" width="2.6" height="2.6" fill="#006400" fill-opacity="0.18"/><rect x="725.0" y="459.3" width="2.6" height="2.6" fill="#006400" fill-opacity="0.1"/><rect x="718.3" y="571.4" width="2.6" height="2.6" fill="#006400" fill-opacity="0.14"/><rect x="738.0" y="489.3" width="2.6" height="2.6" fill="#006400" fill-opacity="0.18"/><rect x="736.3" y="536.4" width="2.6" height="2.6" fill="#006400" fill-opacity="0.14"/><rect x="732.4" y="500.3" width="2.6" height="2.6" fill="#006400" fill-opacity="0.23"/><rect x="730.7" y="565.7" width="2.6" height="2.6" fill="#006400" fill-opacity="0.18"/><rect x="720.5" y="560.6" width="2.6" height="2.6" fill="#006400" fill-opacity="0.1"/><rect x="717.0" y="464.4" width="2.6" height="2.6" fill="#006400" fill-opacity="0.23"/><rect x="720.9" y="500.3" width="2.6" height="2.6" fill="#006400" fill-opacity="0.23"/><rect x="738.1" y="537.4" width="2.6" height="2.6" fill="#006400" fill-opacity="0.14"/><rect x="732.4" y="429.7" width="2.6" height="2.6" fill="#006400" fill-opacity="0.14"/><rect x="733.6" y="438.6" width="2.6" height="2.6" fill="#006400" fill-opacity="0.18"/><rect x="720.6" y="542.3" width="2.6" height="2.6" fill="#006400" fill-opacity="0.14"/><rect x="733.9" y="538.4" width="2.6" height="2.6" fill="#006400" fill-opacity="0.14"/><rect x="723.4" y="555.7" width="2.6" height="2.6" fill="#006400" fill-opacity="0.23"/><rect x="723.1" y="554.2" width="2.6" height="2.6" fill="#006400" fill-opacity="0.23"/><rect x="734.2" y="431.2" width="2.6" height="2.6" fill="#006400" fill-opacity="0.18"/><rect x="725.9" y="466.4" width="2.6" height="2.6" fill="#006400" fill-opacity="0.23"/><rect x="722.5" y="588.5" width="2.6" height="2.6" fill="#006400" fill-opacity="0.1"/><rect x="737.3" y="549.7" width="2.6" height="2.6" fill="#006400" fill-opacity="0.14"/><rect x="733.1" y="549.6" width="2.6" height="2.6" fill="#006400" fill-opacity="0.1"/><rect x="724.9" y="564.1" width="2.6" height="2.6" fill="#006400" fill-opacity="0.23"/><rect x="732.6" y="537.4" width="2.6" height="2.6" fill="#006400" fill-opacity="0.18"/><rect x="721.0" y="544.2" width="2.6" height="2.6" fill="#006400" fill-opacity="0.1"/><rect x="721.0" y="453.3" width="2.6" height="2.6" fill="#006400" fill-opacity="0.23"/><rect x="716.6" y="525.0" width="2.6" height="2.6" fill="#006400" fill-opacity="0.18"/><rect x="738.4" y="434.1" width="2.6" height="2.6" fill="#006400" fill-opacity="0.14"/><rect x="720.8" y="477.6" width="2.6" height="2.6" fill="#006400" fill-opacity="0.14"/><rect x="739.2" y="513.0" width="2.6" height="2.6" fill="#006400" fill-opacity="0.18"/><rect x="717.3" y="586.7" width="2.6" height="2.6" fill="#006400" fill-opacity="0.14"/><rect x="720.8" y="587.4" width="2.6" height="2.6" fill="#006400" fill-opacity="0.1"/><rect x="721.8" y="489.0" width="2.6" height="2.6" fill="#006400" fill-opacity="0.1"/><rect x="716.5" y="551.7" width="2.6" height="2.6" fill="#006400" fill-opacity="0.18"/><rect x="716.4" y="498.7" width="2.6" height="2.6" fill="#006400" fill-opacity="0.23"/><rect x="732.0" y="513.2" width="2.6" height="2.6" fill="#006400" fill-opacity="0.18"/><rect x="725.5" y="498.2" width="2.6" height="2.6" fill="#006400" fill-opacity="0.14"/><rect x="725.2" y="502.6" width="2.6" height="2.6" fill="#006400" fill-opacity="0.14"/><rect x="721.1" y="571.9" width="2.6" height="2.6" fill="#006400" fill-opacity="0.18"/><rect x="739.2" y="525.1" width="2.6" height="2.6" fill="#006400" fill-opacity="0.14"/><rect x="730.3" y="483.1" width="2.6" height="2.6" fill="#006400" fill-opacity="0.1"/><rect x="732.1" y="545.0" width="2.6" height="2.6" fill="#006400" fill-opacity="0.18"/><rect x="731.4" y="506.3" width="2.6" height="2.6" fill="#006400" fill-opacity="0.23"/><rect x="733.3" y="542.7" width="2.6" height="2.6" fill="#006400" fill-opacity="0.23"/><rect x="739.3" y="516.1" width="2.6" height="2.6" fill="#006400" fill-opacity="0.14"/><rect x="736.3" y="579.1" width="2.6" height="2.6" fill="#006400" fill-opacity="0.18"/><rect x="728.0" y="503.1" width="2.6" height="2.6" fill="#006400" fill-opacity="0.18"/><rect x="731.3" y="467.5" width="2.6" height="2.6" fill="#006400" fill-opacity="0.18"/><rect x="736.0" y="532.3" width="2.6" height="2.6" fill="#006400" fill-opacity="0.18"/><rect x="720.7" y="508.5" width="2.6" height="2.6" fill="#006400" fill-opacity="0.14"/><rect x="724.1" y="465.6" width="2.6" height="2.6" fill="#006400" fill-opacity="0.14"/><rect x="721.1" y="530.5" width="2.6" height="2.6" fill="#006400" fill-opacity="0.14"/><rect x="719.7" y="460.9" width="2.6" height="2.6" fill="#006400" fill-opacity="0.1"/><rect x="736.1" y="501.0" width="2.6" height="2.6" fill="#006400" fill-opacity="0.23"/><rect x="721.4" y="436.2" width="2.6" height="2.6" fill="#006400" fill-opacity="0.1"/><rect x="727.9" y="520.7" width="2.6" height="2.6" fill="#006400" fill-opacity="0.18"/><rect x="724.9" y="483.1" width="2.6" height="2.6" fill="#006400" fill-opacity="0.23"/><rect x="726.9" y="506.7" width="2.6" height="2.6" fill="#006400" fill-opacity="0.14"/><rect x="731.7" y="549.6" width="2.6" height="2.6" fill="#006400" fill-opacity="0.18"/><rect x="730.3" y="520.5" width="2.6" height="2.6" fill="#006400" fill-opacity="0.18"/><rect x="728.7" y="554.3" width="2.6" height="2.6" fill="#006400" fill-opacity="0.1"/><rect x="719.7" y="481.2" width="2.6" height="2.6" fill="#006400" fill-opacity="0.18"/><rect x="721.8" y="554.5" width="2.6" height="2.6" fill="#006400" fill-opacity="0.23"/><rect x="736.0" y="459.7" width="2.6" height="2.6" fill="#006400" fill-opacity="0.14"/><rect x="722.4" y="475.4" width="2.6" height="2.6" fill="#006400" fill-opacity="0.18"/><rect x="724.4" y="575.7" width="2.6" height="2.6" fill="#006400" fill-opacity="0.1"/><rect x="725.2" y="496.7" width="2.6" height="2.6" fill="#006400" fill-opacity="0.18"/><rect x="729.3" y="502.6" width="2.6" height="2.6" fill="#006400" fill-opacity="0.14"/><rect x="729.3" y="581.9" width="2.6" height="2.6" fill="#006400" fill-opacity="0.1"/><rect x="717.1" y="498.9" width="2.6" height="2.6" fill="#006400" fill-opacity="0.23"/><rect x="727.3" y="511.7" width="2.6" height="2.6" fill="#006400" fill-opacity="0.1"/><rect x="737.8" y="456.1" width="2.6" height="2.6" fill="#006400" fill-opacity="0.23"/><rect x="736.8" y="508.3" width="2.6" height="2.6" fill="#006400" fill-opacity="0.23"/><rect x="733.5" y="486.2" width="2.6" height="2.6" fill="#006400" fill-opacity="0.1"/><rect x="725.0" y="525.8" width="2.6" height="2.6" fill="#006400" fill-opacity="0.1"/><rect x="723.3" y="556.2" width="2.6" height="2.6" fill="#006400" fill-opacity="0.23"/><rect x="720.7" y="548.1" width="2.6" height="2.6" fill="#006400" fill-opacity="0.1"/><rect x="727.3" y="478.4" width="2.6" height="2.6" fill="#006400" fill-opacity="0.14"/><rect x="731.7" y="481.0" width="2.6" height="2.6" fill="#006400" fill-opacity="0.18"/><rect x="732.0" y="481.0" width="2.6" height="2.6" fill="#006400" fill-opacity="0.23"/><rect x="725.2" y="549.2" width="2.6" height="2.6" fill="#006400" fill-opacity="0.1"/><rect x="723.4" y="549.4" width="2.6" height="2.6" fill="#006400" fill-opacity="0.1"/><rect x="727.9" y="454.9" width="2.6" height="2.6" fill="#006400" fill-opacity="0.1"/><rect x="736.0" y="494.1" width="2.6" height="2.6" fill="#006400" fill-opacity="0.23"/><rect x="716.6" y="504.8" width="2.6" height="2.6" fill="#006400" fill-opacity="0.18"/><rect x="725.9" y="447.2" width="2.6" height="2.6" fill="#006400" fill-opacity="0.18"/><rect x="720.4" y="486.0" width="2.6" height="2.6" fill="#006400" fill-opacity="0.18"/><rect x="761.2" y="357.0" width="22.8" height="263.0" fill="url(#g13)"/><rect x="804.8" y="357.5" width="23.8" height="294.5" fill="url(#g14)"/><rect x="908.4" y="533.5" width="2.6" height="2.6" fill="#006400" fill-opacity="0.14"/><rect x="896.2" y="499.4" width="2.6" height="2.6" fill="#006400" fill-opacity="0.1"/><rect x="893.0" y="463.7" width="2.6" height="2.6" fill="#006400" fill-opacity="0.18"/><rect x="901.9" y="423.0" width="2.6" height="2.6" fill="#006400" fill-opacity="0.14"/><rect x="905.6" y="499.5" width="2.6" height="2.6" fill="#006400" fill-opacity="0.23"/><rect x="896.3" y="496.1" width="2.6" height="2.6" fill="#006400" fill-opacity="0.14"/><rect x="906.7" y="434.1" width="2.6" height="2.6" fill="#006400" fill-opacity="0.1"/><rect x="910.9" y="457.1" width="2.6" height="2.6" fill="#006400" fill-opacity="0.23"/><rect x="904.9" y="459.3" width="2.6" height="2.6" fill="#006400" fill-opacity="0.14"/><rect x="907.6" y="493.7" width="2.6" height="2.6" fill="#006400" fill-opacity="0.18"/><rect x="895.2" y="528.9" width="2.6" height="2.6" fill="#006400" fill-opacity="0.14"/><rect x="896.2" y="484.3" width="2.6" height="2.6" fill="#006400" fill-opacity="0.1"/><rect x="907.2" y="524.3" width="2.6" height="2.6" fill="#006400" fill-opacity="0.18"/><rect x="901.6" y="483.3" width="2.6" height="2.6" fill="#006400" fill-opacity="0.1"/><rect x="895.2" y="513.5" width="2.6" height="2.6" fill="#006400" fill-opacity="0.23"/><rect x="905.4" y="473.8" width="2.6" height="2.6" fill="#006400" fill-opacity="0.18"/><rect x="898.8" y="495.7" width="2.6" height="2.6" fill="#006400" fill-opacity="0.18"/><rect x="895.0" y="501.2" width="2.6" height="2.6" fill="#006400" fill-opacity="0.14"/><rect x="900.5" y="464.8" width="2.6" height="2.6" fill="#006400" fill-opacity="0.18"/><rect x="893.6" y="439.9" width="2.6" height="2.6" fill="#006400" fill-opacity="0.23"/><rect x="899.4" y="421.2" width="2.6" height="2.6" fill="#006400" fill-opacity="0.23"/><rect x="894.3" y="454.5" width="2.6" height="2.6" fill="#006400" fill-opacity="0.14"/><rect x="904.0" y="544.4" width="2.6" height="2.6" fill="#006400" fill-opacity="0.18"/><rect x="910.2" y="464.1" width="2.6" height="2.6" fill="#006400" fill-opacity="0.1"/><rect x="898.7" y="426.1" width="2.6" height="2.6" fill="#006400" fill-opacity="0.1"/><rect x="909.8" y="436.0" width="2.6" height="2.6" fill="#006400" fill-opacity="0.14"/><rect x="905.3" y="476.8" width="2.6" height="2.6" fill="#006400" fill-opacity="0.1"/><rect x="914.1" y="521.6" width="2.6" height="2.6" fill="#006400" fill-opacity="0.18"/><rect x="902.2" y="428.9" width="2.6" height="2.6" fill="#006400" fill-opacity="0.14"/><rect x="894.0" y="479.7" width="2.6" height="2.6" fill="#006400" fill-opacity="0.18"/><rect x="902.3" y="536.1" width="2.6" height="2.6" fill="#006400" fill-opacity="0.1"/><rect x="902.5" y="531.2" width="2.6" height="2.6" fill="#006400" fill-opacity="0.1"/><rect x="901.3" y="441.6" width="2.6" height="2.6" fill="#006400" fill-opacity="0.14"/><rect x="893.2" y="501.1" width="2.6" height="2.6" fill="#006400" fill-opacity="0.14"/><rect x="893.6" y="493.2" width="2.6" height="2.6" fill="#006400" fill-opacity="0.1"/><rect x="902.9" y="541.9" width="2.6" height="2.6" fill="#006400" fill-opacity="0.14"/><rect x="897.1" y="468.1" width="2.6" height="2.6" fill="#006400" fill-opacity="0.14"/><rect x="894.2" y="487.5" width="2.6" height="2.6" fill="#006400" fill-opacity="0.23"/><rect x="892.4" y="441.0" width="2.6" height="2.6" fill="#006400" fill-opacity="0.18"/><rect x="901.1" y="472.2" width="2.6" height="2.6" fill="#006400" fill-opacity="0.14"/><rect x="908.8" y="543.2" width="2.6" height="2.6" fill="#006400" fill-opacity="0.14"/><rect x="914.0" y="509.0" width="2.6" height="2.6" fill="#006400" fill-opacity="0.23"/><rect x="896.5" y="535.3" width="2.6" height="2.6" fill="#006400" fill-opacity="0.14"/><rect x="911.6" y="420.5" width="2.6" height="2.6" fill="#006400" fill-opacity="0.1"/><rect x="894.0" y="491.5" width="2.6" height="2.6" fill="#006400" fill-opacity="0.1"/><rect x="897.0" y="441.6" width="2.6" height="2.6" fill="#006400" fill-opacity="0.1"/><rect x="899.5" y="511.2" width="2.6" height="2.6" fill="#006400" fill-opacity="0.1"/><rect x="908.0" y="443.6" width="2.6" height="2.6" fill="#006400" fill-opacity="0.18"/><rect x="902.5" y="499.9" width="2.6" height="2.6" fill="#006400" fill-opacity="0.14"/><rect x="901.3" y="460.2" width="2.6" height="2.6" fill="#006400" fill-opacity="0.23"/><rect x="895.0" y="452.4" width="2.6" height="2.6" fill="#006400" fill-opacity="0.14"/><rect x="894.8" y="429.5" width="2.6" height="2.6" fill="#006400" fill-opacity="0.14"/><rect x="908.4" y="534.7" width="2.6" height="2.6" fill="#006400" fill-opacity="0.1"/><rect x="902.9" y="538.7" width="2.6" height="2.6" fill="#006400" fill-opacity="0.23"/><rect x="893.1" y="478.2" width="2.6" height="2.6" fill="#006400" fill-opacity="0.1"/><rect x="911.7" y="444.0" width="2.6" height="2.6" fill="#006400" fill-opacity="0.23"/><rect x="899.8" y="448.7" width="2.6" height="2.6" fill="#006400" fill-opacity="0.14"/><rect x="909.9" y="527.3" width="2.6" height="2.6" fill="#006400" fill-opacity="0.23"/><rect x="913.9" y="454.4" width="2.6" height="2.6" fill="#006400" fill-opacity="0.1"/><rect x="910.7" y="500.8" width="2.6" height="2.6" fill="#006400" fill-opacity="0.14"/><rect x="910.2" y="500.5" width="2.6" height="2.6" fill="#006400" fill-opacity="0.18"/><rect x="907.1" y="490.1" width="2.6" height="2.6" fill="#006400" fill-opacity="0.1"/><rect x="910.7" y="452.1" width="2.6" height="2.6" fill="#006400" fill-opacity="0.14"/><rect x="904.9" y="442.0" width="2.6" height="2.6" fill="#006400" fill-opacity="0.23"/><rect x="912.7" y="505.4" width="2.6" height="2.6" fill="#006400" fill-opacity="0.1"/><rect x="910.4" y="498.7" width="2.6" height="2.6" fill="#006400" fill-opacity="0.18"/><rect x="893.5" y="524.0" width="2.6" height="2.6" fill="#006400" fill-opacity="0.18"/><rect x="901.6" y="504.1" width="2.6" height="2.6" fill="#006400" fill-opacity="0.18"/><rect x="891.8" y="436.9" width="2.6" height="2.6" fill="#006400" fill-opacity="0.1"/><rect x="901.3" y="526.6" width="2.6" height="2.6" fill="#006400" fill-opacity="0.18"/><rect x="896.5" y="478.4" width="2.6" height="2.6" fill="#006400" fill-opacity="0.18"/><rect x="892.2" y="484.3" width="2.6" height="2.6" fill="#006400" fill-opacity="0.18"/><rect x="908.2" y="425.7" width="2.6" height="2.6" fill="#006400" fill-opacity="0.23"/><rect x="897.2" y="487.6" width="2.6" height="2.6" fill="#006400" fill-opacity="0.14"/><rect x="911.2" y="465.2" width="2.6" height="2.6" fill="#006400" fill-opacity="0.14"/><rect x="895.0" y="478.3" width="2.6" height="2.6" fill="#006400" fill-opacity="0.14"/><rect x="906.0" y="457.6" width="2.6" height="2.6" fill="#006400" fill-opacity="0.23"/><rect x="912.4" y="477.7" width="2.6" height="2.6" fill="#006400" fill-opacity="0.14"/><rect x="900.8" y="545.5" width="2.6" height="2.6" fill="#006400" fill-opacity="0.1"/><rect x="914.1" y="420.7" width="2.6" height="2.6" fill="#006400" fill-opacity="0.23"/><rect x="909.1" y="492.9" width="2.6" height="2.6" fill="#006400" fill-opacity="0.1"/><rect x="909.5" y="536.5" width="2.6" height="2.6" fill="#006400" fill-opacity="0.23"/><rect x="897.5" y="450.6" width="2.6" height="2.6" fill="#006400" fill-opacity="0.23"/><rect x="902.1" y="443.9" width="2.6" height="2.6" fill="#006400" fill-opacity="0.18"/><rect x="906.6" y="493.1" width="2.6" height="2.6" fill="#006400" fill-opacity="0.23"/><rect x="892.8" y="539.4" width="2.6" height="2.6" fill="#006400" fill-opacity="0.23"/><rect x="891.8" y="494.5" width="2.6" height="2.6" fill="#006400" fill-opacity="0.1"/><rect x="909.4" y="483.5" width="2.6" height="2.6" fill="#006400" fill-opacity="0.14"/><rect x="892.2" y="497.1" width="2.6" height="2.6" fill="#006400" fill-opacity="0.18"/><rect x="913.9" y="463.6" width="2.6" height="2.6" fill="#006400" fill-opacity="0.18"/><rect x="905.2" y="442.0" width="2.6" height="2.6" fill="#006400" fill-opacity="0.1"/><rect x="905.5" y="515.0" width="2.6" height="2.6" fill="#006400" fill-opacity="0.18"/><rect x="909.9" y="474.2" width="2.6" height="2.6" fill="#006400" fill-opacity="0.1"/><rect x="907.0" y="507.4" width="2.6" height="2.6" fill="#006400" fill-opacity="0.23"/><rect x="900.0" y="507.3" width="2.6" height="2.6" fill="#006400" fill-opacity="0.18"/><rect x="903.3" y="500.9" width="2.6" height="2.6" fill="#006400" fill-opacity="0.1"/><rect x="894.8" y="521.7" width="2.6" height="2.6" fill="#006400" fill-opacity="0.1"/><rect x="895.5" y="449.8" width="2.6" height="2.6" fill="#006400" fill-opacity="0.18"/><rect x="914.7" y="530.9" width="2.6" height="2.6" fill="#006400" fill-opacity="0.18"/><rect x="898.8" y="515.6" width="2.6" height="2.6" fill="#006400" fill-opacity="0.23"/><rect x="901.9" y="428.3" width="2.6" height="2.6" fill="#006400" fill-opacity="0.1"/><rect x="899.1" y="479.6" width="2.6" height="2.6" fill="#006400" fill-opacity="0.23"/><rect x="913.2" y="472.5" width="2.6" height="2.6" fill="#006400" fill-opacity="0.23"/><rect x="895.2" y="481.7" width="2.6" height="2.6" fill="#006400" fill-opacity="0.18"/><rect x="904.3" y="426.1" width="2.6" height="2.6" fill="#006400" fill-opacity="0.23"/><rect x="900.1" y="518.9" width="2.6" height="2.6" fill="#006400" fill-opacity="0.23"/><rect x="906.5" y="476.3" width="2.6" height="2.6" fill="#006400" fill-opacity="0.18"/><rect x="904.2" y="463.8" width="2.6" height="2.6" fill="#006400" fill-opacity="0.18"/><rect x="897.8" y="505.7" width="2.6" height="2.6" fill="#006400" fill-opacity="0.14"/><rect x="893.7" y="541.9" width="2.6" height="2.6" fill="#006400" fill-opacity="0.23"/><rect x="913.7" y="535.7" width="2.6" height="2.6" fill="#006400" fill-opacity="0.14"/><rect x="906.6" y="506.9" width="2.6" height="2.6" fill="#006400" fill-opacity="0.1"/><rect x="914.0" y="523.5" width="2.6" height="2.6" fill="#006400" fill-opacity="0.18"/><rect x="899.5" y="485.8" width="2.6" height="2.6" fill="#006400" fill-opacity="0.14"/><rect x="909.1" y="469.8" width="2.6" height="2.6" fill="#006400" fill-opacity="0.23"/><rect x="894.6" y="504.0" width="2.6" height="2.6" fill="#006400" fill-opacity="0.18"/><rect x="893.0" y="505.0" width="2.6" height="2.6" fill="#006400" fill-opacity="0.1"/><rect x="905.3" y="534.0" width="2.6" height="2.6" fill="#006400" fill-opacity="0.23"/><rect x="910.2" y="449.3" width="2.6" height="2.6" fill="#006400" fill-opacity="0.14"/><rect x="909.5" y="446.4" width="2.6" height="2.6" fill="#006400" fill-opacity="0.1"/><rect x="909.2" y="542.8" width="2.6" height="2.6" fill="#006400" fill-opacity="0.23"/><rect x="908.3" y="513.4" width="2.6" height="2.6" fill="#006400" fill-opacity="0.23"/><rect x="893.0" y="475.7" width="2.6" height="2.6" fill="#006400" fill-opacity="0.18"/><rect x="898.8" y="504.1" width="2.6" height="2.6" fill="#006400" fill-opacity="0.18"/><rect x="910.7" y="507.3" width="2.6" height="2.6" fill="#006400" fill-opacity="0.18"/><rect x="894.3" y="438.4" width="2.6" height="2.6" fill="#006400" fill-opacity="0.18"/><rect x="909.7" y="435.3" width="2.6" height="2.6" fill="#006400" fill-opacity="0.23"/><rect x="902.1" y="466.0" width="2.6" height="2.6" fill="#006400" fill-opacity="0.1"/><rect x="894.1" y="454.4" width="2.6" height="2.6" fill="#006400" fill-opacity="0.14"/><rect x="914.6" y="505.5" width="2.6" height="2.6" fill="#006400" fill-opacity="0.14"/><rect x="896.4" y="452.6" width="2.6" height="2.6" fill="#006400" fill-opacity="0.1"/><rect x="910.9" y="420.6" width="2.6" height="2.6" fill="#006400" fill-opacity="0.18"/><rect x="906.5" y="466.1" width="2.6" height="2.6" fill="#006400" fill-opacity="0.1"/><rect x="903.7" y="481.3" width="2.6" height="2.6" fill="#006400" fill-opacity="0.23"/><rect x="915.3" y="456.5" width="2.6" height="2.6" fill="#006400" fill-opacity="0.18"/><rect x="915.1" y="521.0" width="2.6" height="2.6" fill="#006400" fill-opacity="0.1"/><rect x="901.8" y="489.3" width="2.6" height="2.6" fill="#006400" fill-opacity="0.23"/><rect x="894.1" y="443.5" width="2.6" height="2.6" fill="#006400" fill-opacity="0.14"/><rect x="909.1" y="472.1" width="2.6" height="2.6" fill="#006400" fill-opacity="0.1"/><rect x="908.3" y="472.2" width="2.6" height="2.6" fill="#006400" fill-opacity="0.14"/><rect x="909.5" y="516.1" width="2.6" height="2.6" fill="#006400" fill-opacity="0.18"/><rect x="913.5" y="506.1" width="2.6" height="2.6" fill="#006400" fill-opacity="0.1"/><rect x="891.7" y="422.3" width="2.6" height="2.6" fill="#006400" fill-opacity="0.18"/><rect x="905.0" y="491.6" width="2.6" height="2.6" fill="#006400" fill-opacity="0.18"/><rect x="892.5" y="520.1" width="2.6" height="2.6" fill="#006400" fill-opacity="0.14"/><rect x="892.1" y="482.3" width="2.6" height="2.6" fill="#006400" fill-opacity="0.23"/><rect x="912.0" y="521.5" width="2.6" height="2.6" fill="#006400" fill-opacity="0.18"/><rect x="915.2" y="526.4" width="2.6" height="2.6" fill="#006400" fill-opacity="0.18"/><rect x="911.1" y="526.6" width="2.6" height="2.6" fill="#006400" fill-opacity="0.14"/><rect x="897.4" y="528.6" width="2.6" height="2.6" fill="#006400" fill-opacity="0.23"/><rect x="891.9" y="424.7" width="2.6" height="2.6" fill="#006400" fill-opacity="0.14"/><rect x="914.9" y="505.9" width="2.6" height="2.6" fill="#006400" fill-opacity="0.23"/><rect x="895.3" y="536.2" width="2.6" height="2.6" fill="#006400" fill-opacity="0.23"/><rect x="896.5" y="412.4" width="2.6" height="2.6" fill="#006400" fill-opacity="0.23"/><rect x="914.8" y="453.7" width="2.6" height="2.6" fill="#006400" fill-opacity="0.1"/><rect x="912.7" y="465.3" width="2.6" height="2.6" fill="#006400" fill-opacity="0.1"/><rect x="904.8" y="521.4" width="2.6" height="2.6" fill="#006400" fill-opacity="0.23"/><rect x="896.3" y="492.1" width="2.6" height="2.6" fill="#006400" fill-opacity="0.14"/><rect x="912.5" y="430.0" width="2.6" height="2.6" fill="#006400" fill-opacity="0.1"/><rect x="896.2" y="469.0" width="2.6" height="2.6" fill="#006400" fill-opacity="0.23"/><rect x="907.8" y="504.8" width="2.6" height="2.6" fill="#006400" fill-opacity="0.23"/><rect x="908.7" y="530.2" width="2.6" height="2.6" fill="#006400" fill-opacity="0.23"/><rect x="937.4" y="357.0" width="22.8" height="218.0" fill="url(#g15)"/><rect x="980.8" y="357.5" width="23.8" height="291.5" fill="url(#g16)"/><line x1="728.7" y1="432.3" x2="728.7" y2="478.7" stroke="#000" stroke-width="2.2"/><line x1="728.7" y1="544.0" x2="728.7" y2="581.6" stroke="#000" stroke-width="2.2"/><rect x="708.9" y="479.8" width="39.6" height="63.1" fill="#006400" fill-opacity="0.5" stroke="#000" stroke-width="2.2"/><line x1="708.8" y1="518.1" x2="748.6" y2="518.1" stroke="#000" stroke-width="4.4"/><line x1="772.6" y1="397.9" x2="772.6" y2="487.2" stroke="#000" stroke-width="2.2"/><line x1="772.6" y1="549.0" x2="772.6" y2="616.5" stroke="#000" stroke-width="2.2"/><rect x="752.8" y="488.3" width="39.6" height="59.6" fill="#00CD66" fill-opacity="0.5" stroke="#000" stroke-width="2.2"/><line x1="752.7" y1="528.7" x2="792.5" y2="528.7" stroke="#000" stroke-width="4.4"/><line x1="816.7" y1="390.3" x2="816.7" y2="486.0" stroke="#000" stroke-width="2.2"/><line x1="816.7" y1="552.2" x2="816.7" y2="648.3" stroke="#000" stroke-width="2.2"/><rect x="796.9" y="487.1" width="39.6" height="64.0" fill="#90EE90" fill-opacity="0.5" stroke="#000" stroke-width="2.2"/><line x1="796.8" y1="528.7" x2="836.6" y2="528.7" stroke="#000" stroke-width="4.4"/><line x1="904.7" y1="413.8" x2="904.7" y2="464.6" stroke="#000" stroke-width="2.2"/><line x1="904.7" y1="509.7" x2="904.7" y2="545.5" stroke="#000" stroke-width="2.2"/><rect x="884.9" y="465.7" width="39.6" height="42.9" fill="#006400" fill-opacity="0.5" stroke="#000" stroke-width="2.2"/><line x1="884.8" y1="496.6" x2="924.6" y2="496.6" stroke="#000" stroke-width="4.4"/><line x1="948.8" y1="403.0" x2="948.8" y2="467.3" stroke="#000" stroke-width="2.2"/><line x1="948.8" y1="512.4" x2="948.8" y2="573.2" stroke="#000" stroke-width="2.2"/><rect x="929.0" y="468.4" width="39.6" height="42.9" fill="#00CD66" fill-opacity="0.5" stroke="#000" stroke-width="2.2"/><line x1="928.9" y1="495.3" x2="968.7" y2="495.3" stroke="#000" stroke-width="4.4"/><line x1="992.7" y1="390.7" x2="992.7" y2="465.4" stroke="#000" stroke-width="2.2"/><line x1="992.7" y1="515.1" x2="992.7" y2="589.5" stroke="#000" stroke-width="2.2"/><rect x="972.9" y="466.5" width="39.6" height="47.5" fill="#90EE90" fill-opacity="0.5" stroke="#000" stroke-width="2.2"/><line x1="972.8" y1="494.4" x2="1012.6" y2="494.4" stroke="#000" stroke-width="4.4"/><line x1="670.60" y1="359.8" x2="670.60" y2="649.6" stroke="#d6d6d6" stroke-width="1"/><rect x="668.80" y="358.50" width="384.10" height="292.40" fill="none" stroke="#000" stroke-width="2.6"/><line x1="655.0" y1="402.3" x2="668.0" y2="402.3" stroke="#333" stroke-width="4.2"/><line x1="655.0" y1="481.0" x2="668.0" y2="481.0" stroke="#333" stroke-width="4.2"/><line x1="655.0" y1="560.1" x2="668.0" y2="560.1" stroke="#333" stroke-width="4.2"/><line x1="655.0" y1="639.4" x2="668.0" y2="639.4" stroke="#333" stroke-width="4.2"/><line x1="772.6" y1="651.7" x2="772.6" y2="664.2" stroke="#333" stroke-width="4.2"/><line x1="948.8" y1="651.7" x2="948.8" y2="664.2" stroke="#333" stroke-width="4.2"/><rect x="233.1" y="938.0" width="22.8" height="21.0" fill="url(#g17)"/><rect x="276.6" y="695.0" width="23.8" height="265.0" fill="url(#g18)"/><rect x="384.1" y="867.3" width="2.6" height="2.6" fill="#006400" fill-opacity="0.14"/><rect x="384.5" y="910.9" width="2.6" height="2.6" fill="#006400" fill-opacity="0.14"/><rect x="372.6" y="858.1" width="2.6" height="2.6" fill="#006400" fill-opacity="0.14"/><rect x="363.5" y="954.5" width="2.6" height="2.6" fill="#006400" fill-opacity="0.14"/><rect x="364.3" y="924.0" width="2.6" height="2.6" fill="#006400" fill-opacity="0.1"/><rect x="363.4" y="940.5" width="2.6" height="2.6" fill="#006400" fill-opacity="0.23"/><rect x="385.7" y="842.6" width="2.6" height="2.6" fill="#006400" fill-opacity="0.14"/><rect x="376.7" y="937.4" width="2.6" height="2.6" fill="#006400" fill-opacity="0.23"/><rect x="363.8" y="895.7" width="2.6" height="2.6" fill="#006400" fill-opacity="0.1"/><rect x="365.7" y="954.3" width="2.6" height="2.6" fill="#006400" fill-opacity="0.14"/><rect x="375.7" y="939.8" width="2.6" height="2.6" fill="#006400" fill-opacity="0.1"/><rect x="372.6" y="934.4" width="2.6" height="2.6" fill="#006400" fill-opacity="0.1"/><rect x="379.0" y="829.9" width="2.6" height="2.6" fill="#006400" fill-opacity="0.1"/><rect x="377.7" y="918.2" width="2.6" height="2.6" fill="#006400" fill-opacity="0.1"/><rect x="378.2" y="920.2" width="2.6" height="2.6" fill="#006400" fill-opacity="0.23"/><rect x="381.3" y="888.7" width="2.6" height="2.6" fill="#006400" fill-opacity="0.1"/><rect x="383.5" y="858.6" width="2.6" height="2.6" fill="#006400" fill-opacity="0.14"/><rect x="368.4" y="867.2" width="2.6" height="2.6" fill="#006400" fill-opacity="0.23"/><rect x="365.5" y="948.9" width="2.6" height="2.6" fill="#006400" fill-opacity="0.18"/><rect x="369.1" y="892.5" width="2.6" height="2.6" fill="#006400" fill-opacity="0.1"/><rect x="370.8" y="844.6" width="2.6" height="2.6" fill="#006400" fill-opacity="0.18"/><rect x="386.9" y="864.6" width="2.6" height="2.6" fill="#006400" fill-opacity="0.14"/><rect x="366.1" y="814.8" width="2.6" height="2.6" fill="#006400" fill-opacity="0.14"/><rect x="373.2" y="910.3" width="2.6" height="2.6" fill="#006400" fill-opacity="0.14"/><rect x="382.5" y="951.3" width="2.6" height="2.6" fill="#006400" fill-opacity="0.1"/><rect x="364.1" y="951.0" width="2.6" height="2.6" fill="#006400" fill-opacity="0.14"/><rect x="384.5" y="945.2" width="2.6" height="2.6" fill="#006400" fill-opacity="0.14"/><rect x="369.5" y="902.4" width="2.6" height="2.6" fill="#006400" fill-opacity="0.14"/><rect x="371.8" y="902.8" width="2.6" height="2.6" fill="#006400" fill-opacity="0.18"/><rect x="367.3" y="896.1" width="2.6" height="2.6" fill="#006400" fill-opacity="0.23"/><rect x="387.3" y="953.4" width="2.6" height="2.6" fill="#006400" fill-opacity="0.18"/><rect x="373.3" y="900.3" width="2.6" height="2.6" fill="#006400" fill-opacity="0.1"/><rect x="372.0" y="914.5" width="2.6" height="2.6" fill="#006400" fill-opacity="0.18"/><rect x="369.1" y="824.8" width="2.6" height="2.6" fill="#006400" fill-opacity="0.18"/><rect x="365.9" y="947.2" width="2.6" height="2.6" fill="#006400" fill-opacity="0.18"/><rect x="364.9" y="904.5" width="2.6" height="2.6" fill="#006400" fill-opacity="0.1"/><rect x="376.1" y="939.8" width="2.6" height="2.6" fill="#006400" fill-opacity="0.14"/><rect x="385.3" y="944.7" width="2.6" height="2.6" fill="#006400" fill-opacity="0.1"/><rect x="381.5" y="898.8" width="2.6" height="2.6" fill="#006400" fill-opacity="0.1"/><rect x="366.2" y="909.1" width="2.6" height="2.6" fill="#006400" fill-opacity="0.14"/><rect x="367.4" y="917.9" width="2.6" height="2.6" fill="#006400" fill-opacity="0.18"/><rect x="369.6" y="941.5" width="2.6" height="2.6" fill="#006400" fill-opacity="0.1"/><rect x="378.8" y="880.2" width="2.6" height="2.6" fill="#006400" fill-opacity="0.14"/><rect x="380.1" y="917.1" width="2.6" height="2.6" fill="#006400" fill-opacity="0.18"/><rect x="376.3" y="872.0" width="2.6" height="2.6" fill="#006400" fill-opacity="0.1"/><rect x="366.1" y="895.2" width="2.6" height="2.6" fill="#006400" fill-opacity="0.23"/><rect x="384.5" y="912.9" width="2.6" height="2.6" fill="#006400" fill-opacity="0.23"/><rect x="370.7" y="834.1" width="2.6" height="2.6" fill="#006400" fill-opacity="0.23"/><rect x="387.1" y="896.6" width="2.6" height="2.6" fill="#006400" fill-opacity="0.1"/><rect x="371.1" y="945.8" width="2.6" height="2.6" fill="#006400" fill-opacity="0.14"/><rect x="368.8" y="825.6" width="2.6" height="2.6" fill="#006400" fill-opacity="0.14"/><rect x="370.1" y="950.0" width="2.6" height="2.6" fill="#006400" fill-opacity="0.1"/><rect x="365.5" y="938.0" width="2.6" height="2.6" fill="#006400" fill-opacity="0.18"/><rect x="366.8" y="897.0" width="2.6" height="2.6" fill="#006400" fill-opacity="0.1"/><rect x="369.5" y="937.7" width="2.6" height="2.6" fill="#006400" fill-opacity="0.1"/><rect x="365.0" y="899.1" width="2.6" height="2.6" fill="#006400" fill-opacity="0.1"/><rect x="385.9" y="933.2" width="2.6" height="2.6" fill="#006400" fill-opacity="0.18"/><rect x="366.7" y="923.1" width="2.6" height="2.6" fill="#006400" fill-opacity="0.18"/><rect x="379.3" y="896.3" width="2.6" height="2.6" fill="#006400" fill-opacity="0.14"/><rect x="381.7" y="939.8" width="2.6" height="2.6" fill="#006400" fill-opacity="0.1"/><rect x="368.7" y="839.8" width="2.6" height="2.6" fill="#006400" fill-opacity="0.23"/><rect x="384.8" y="941.4" width="2.6" height="2.6" fill="#006400" fill-opacity="0.18"/><rect x="379.3" y="937.5" width="2.6" height="2.6" fill="#006400" fill-opacity="0.18"/><rect x="373.9" y="829.9" width="2.6" height="2.6" fill="#006400" fill-opacity="0.1"/><rect x="375.2" y="861.5" width="2.6" height="2.6" fill="#006400" fill-opacity="0.23"/><rect x="367.6" y="857.0" width="2.6" height="2.6" fill="#006400" fill-opacity="0.14"/><rect x="368.0" y="891.2" width="2.6" height="2.6" fill="#006400" fill-opacity="0.18"/><rect x="385.9" y="910.9" width="2.6" height="2.6" fill="#006400" fill-opacity="0.1"/><rect x="381.3" y="841.5" width="2.6" height="2.6" fill="#006400" fill-opacity="0.23"/><rect x="376.0" y="884.9" width="2.6" height="2.6" fill="#006400" fill-opacity="0.14"/><rect x="371.0" y="912.9" width="2.6" height="2.6" fill="#006400" fill-opacity="0.1"/><rect x="385.6" y="844.1" width="2.6" height="2.6" fill="#006400" fill-opacity="0.23"/><rect x="382.8" y="939.2" width="2.6" height="2.6" fill="#006400" fill-opacity="0.18"/><rect x="382.3" y="845.0" width="2.6" height="2.6" fill="#006400" fill-opacity="0.1"/><rect x="375.0" y="887.3" width="2.6" height="2.6" fill="#006400" fill-opacity="0.14"/><rect x="382.9" y="918.5" width="2.6" height="2.6" fill="#006400" fill-opacity="0.1"/><rect x="364.2" y="921.4" width="2.6" height="2.6" fill="#006400" fill-opacity="0.14"/><rect x="366.7" y="949.9" width="2.6" height="2.6" fill="#006400" fill-opacity="0.18"/><rect x="386.1" y="876.5" width="2.6" height="2.6" fill="#006400" fill-opacity="0.1"/><rect x="385.1" y="943.9" width="2.6" height="2.6" fill="#006400" fill-opacity="0.14"/><rect x="374.4" y="889.1" width="2.6" height="2.6" fill="#006400" fill-opacity="0.1"/><rect x="370.2" y="929.3" width="2.6" height="2.6" fill="#006400" fill-opacity="0.14"/><rect x="370.9" y="942.6" width="2.6" height="2.6" fill="#006400" fill-opacity="0.14"/><rect x="379.7" y="944.6" width="2.6" height="2.6" fill="#006400" fill-opacity="0.1"/><rect x="365.0" y="911.6" width="2.6" height="2.6" fill="#006400" fill-opacity="0.18"/><rect x="375.2" y="934.0" width="2.6" height="2.6" fill="#006400" fill-opacity="0.14"/><rect x="383.4" y="898.7" width="2.6" height="2.6" fill="#006400" fill-opacity="0.14"/><rect x="369.9" y="926.1" width="2.6" height="2.6" fill="#006400" fill-opacity="0.18"/><rect x="373.3" y="816.3" width="2.6" height="2.6" fill="#006400" fill-opacity="0.1"/><rect x="369.1" y="925.4" width="2.6" height="2.6" fill="#006400" fill-opacity="0.1"/><rect x="378.0" y="877.0" width="2.6" height="2.6" fill="#006400" fill-opacity="0.23"/><rect x="366.7" y="922.6" width="2.6" height="2.6" fill="#006400" fill-opacity="0.14"/><rect x="373.4" y="901.5" width="2.6" height="2.6" fill="#006400" fill-opacity="0.14"/><rect x="371.1" y="939.2" width="2.6" height="2.6" fill="#006400" fill-opacity="0.1"/><rect x="365.3" y="853.6" width="2.6" height="2.6" fill="#006400" fill-opacity="0.23"/><rect x="377.1" y="941.6" width="2.6" height="2.6" fill="#006400" fill-opacity="0.14"/><rect x="369.9" y="955.8" width="2.6" height="2.6" fill="#006400" fill-opacity="0.23"/><rect x="383.1" y="854.3" width="2.6" height="2.6" fill="#006400" fill-opacity="0.1"/><rect x="381.5" y="937.9" width="2.6" height="2.6" fill="#006400" fill-opacity="0.14"/><rect x="376.1" y="945.0" width="2.6" height="2.6" fill="#006400" fill-opacity="0.18"/><rect x="375.7" y="949.7" width="2.6" height="2.6" fill="#006400" fill-opacity="0.1"/><rect x="376.1" y="912.4" width="2.6" height="2.6" fill="#006400" fill-opacity="0.18"/><rect x="368.0" y="955.9" width="2.6" height="2.6" fill="#006400" fill-opacity="0.1"/><rect x="372.6" y="900.5" width="2.6" height="2.6" fill="#006400" fill-opacity="0.18"/><rect x="386.4" y="908.2" width="2.6" height="2.6" fill="#006400" fill-opacity="0.18"/><rect x="381.2" y="891.8" width="2.6" height="2.6" fill="#006400" fill-opacity="0.23"/><rect x="385.5" y="847.9" width="2.6" height="2.6" fill="#006400" fill-opacity="0.23"/><rect x="380.4" y="921.0" width="2.6" height="2.6" fill="#006400" fill-opacity="0.14"/><rect x="386.7" y="903.9" width="2.6" height="2.6" fill="#006400" fill-opacity="0.23"/><rect x="376.4" y="886.6" width="2.6" height="2.6" fill="#006400" fill-opacity="0.23"/><rect x="369.0" y="954.7" width="2.6" height="2.6" fill="#006400" fill-opacity="0.18"/><rect x="372.2" y="912.1" width="2.6" height="2.6" fill="#006400" fill-opacity="0.14"/><rect x="366.1" y="930.7" width="2.6" height="2.6" fill="#006400" fill-opacity="0.14"/><rect x="378.9" y="948.9" width="2.6" height="2.6" fill="#006400" fill-opacity="0.23"/><rect x="377.2" y="933.7" width="2.6" height="2.6" fill="#006400" fill-opacity="0.18"/><rect x="370.9" y="924.9" width="2.6" height="2.6" fill="#006400" fill-opacity="0.23"/><rect x="382.1" y="920.9" width="2.6" height="2.6" fill="#006400" fill-opacity="0.23"/><rect x="381.8" y="934.7" width="2.6" height="2.6" fill="#006400" fill-opacity="0.14"/><rect x="386.6" y="922.3" width="2.6" height="2.6" fill="#006400" fill-opacity="0.14"/><rect x="379.0" y="929.3" width="2.6" height="2.6" fill="#006400" fill-opacity="0.14"/><rect x="383.8" y="948.6" width="2.6" height="2.6" fill="#006400" fill-opacity="0.1"/><rect x="376.2" y="829.0" width="2.6" height="2.6" fill="#006400" fill-opacity="0.18"/><rect x="383.5" y="825.2" width="2.6" height="2.6" fill="#006400" fill-opacity="0.1"/><rect x="368.9" y="888.5" width="2.6" height="2.6" fill="#006400" fill-opacity="0.18"/><rect x="369.1" y="952.4" width="2.6" height="2.6" fill="#006400" fill-opacity="0.1"/><rect x="386.7" y="884.4" width="2.6" height="2.6" fill="#006400" fill-opacity="0.14"/><rect x="371.8" y="891.8" width="2.6" height="2.6" fill="#006400" fill-opacity="0.18"/><rect x="369.6" y="911.4" width="2.6" height="2.6" fill="#006400" fill-opacity="0.1"/><rect x="369.8" y="941.8" width="2.6" height="2.6" fill="#006400" fill-opacity="0.1"/><rect x="369.7" y="921.9" width="2.6" height="2.6" fill="#006400" fill-opacity="0.18"/><rect x="367.9" y="912.0" width="2.6" height="2.6" fill="#006400" fill-opacity="0.1"/><rect x="373.5" y="953.4" width="2.6" height="2.6" fill="#006400" fill-opacity="0.18"/><rect x="382.5" y="899.4" width="2.6" height="2.6" fill="#006400" fill-opacity="0.23"/><rect x="368.0" y="863.4" width="2.6" height="2.6" fill="#006400" fill-opacity="0.23"/><rect x="368.9" y="952.5" width="2.6" height="2.6" fill="#006400" fill-opacity="0.1"/><rect x="373.9" y="946.0" width="2.6" height="2.6" fill="#006400" fill-opacity="0.1"/><rect x="366.0" y="863.2" width="2.6" height="2.6" fill="#006400" fill-opacity="0.23"/><rect x="373.6" y="900.8" width="2.6" height="2.6" fill="#006400" fill-opacity="0.18"/><rect x="380.8" y="889.8" width="2.6" height="2.6" fill="#006400" fill-opacity="0.14"/><rect x="380.6" y="898.5" width="2.6" height="2.6" fill="#006400" fill-opacity="0.23"/><rect x="368.3" y="931.8" width="2.6" height="2.6" fill="#006400" fill-opacity="0.18"/><rect x="366.5" y="954.7" width="2.6" height="2.6" fill="#006400" fill-opacity="0.1"/><rect x="383.2" y="874.5" width="2.6" height="2.6" fill="#006400" fill-opacity="0.18"/><rect x="370.8" y="913.5" width="2.6" height="2.6" fill="#006400" fill-opacity="0.18"/><rect x="375.7" y="831.1" width="2.6" height="2.6" fill="#006400" fill-opacity="0.14"/><rect x="369.3" y="866.0" width="2.6" height="2.6" fill="#006400" fill-opacity="0.1"/><rect x="375.6" y="835.3" width="2.6" height="2.6" fill="#006400" fill-opacity="0.18"/><rect x="370.9" y="911.3" width="2.6" height="2.6" fill="#006400" fill-opacity="0.1"/><rect x="372.7" y="832.3" width="2.6" height="2.6" fill="#006400" fill-opacity="0.23"/><rect x="375.7" y="876.5" width="2.6" height="2.6" fill="#006400" fill-opacity="0.23"/><rect x="380.5" y="911.3" width="2.6" height="2.6" fill="#006400" fill-opacity="0.18"/><rect x="380.8" y="925.9" width="2.6" height="2.6" fill="#006400" fill-opacity="0.18"/><rect x="374.3" y="893.4" width="2.6" height="2.6" fill="#006400" fill-opacity="0.18"/><rect x="386.0" y="879.8" width="2.6" height="2.6" fill="#006400" fill-opacity="0.14"/><rect x="364.2" y="869.3" width="2.6" height="2.6" fill="#006400" fill-opacity="0.1"/><rect x="371.6" y="949.8" width="2.6" height="2.6" fill="#006400" fill-opacity="0.1"/><rect x="380.6" y="870.1" width="2.6" height="2.6" fill="#006400" fill-opacity="0.1"/><rect x="379.5" y="826.8" width="2.6" height="2.6" fill="#006400" fill-opacity="0.1"/><rect x="383.0" y="903.5" width="2.6" height="2.6" fill="#006400" fill-opacity="0.23"/><rect x="381.8" y="838.6" width="2.6" height="2.6" fill="#006400" fill-opacity="0.23"/><rect x="384.8" y="905.8" width="2.6" height="2.6" fill="#006400" fill-opacity="0.23"/><rect x="369.6" y="938.9" width="2.6" height="2.6" fill="#006400" fill-opacity="0.23"/><rect x="409.5" y="680.0" width="22.8" height="277.0" fill="url(#g19)"/><rect x="453.1" y="677.5" width="23.8" height="276.5" fill="url(#g20)"/><rect x="179.4" y="955.65" width="41.8" height="4.7" rx="2.35" fill="#000"/><line x1="244.5" y1="950.6" x2="244.5" y2="956.3" stroke="#000" stroke-width="2.2"/><rect x="223.6" y="953.85" width="41.8" height="4.9" rx="1.2" fill="#000"/><line x1="288.5" y1="934.2" x2="288.5" y2="946.0" stroke="#000" stroke-width="2.2"/><line x1="288.5" y1="956.6" x2="288.5" y2="958.2" stroke="#000" stroke-width="2.2"/><rect x="268.7" y="947.1" width="39.6" height="8.4" fill="#90EE90" fill-opacity="0.5" stroke="#000" stroke-width="2.2"/><line x1="268.6" y1="953.4" x2="308.4" y2="953.4" stroke="#000" stroke-width="4.4"/><line x1="376.7" y1="829.4" x2="376.7" y2="889.6" stroke="#000" stroke-width="2.2"/><line x1="376.7" y1="937.8" x2="376.7" y2="956.8" stroke="#000" stroke-width="2.2"/><rect x="356.9" y="890.7" width="39.6" height="46.0" fill="#006400" fill-opacity="0.5" stroke="#000" stroke-width="2.2"/><line x1="356.8" y1="913.4" x2="396.6" y2="913.4" stroke="#000" stroke-width="4.4"/><line x1="420.9" y1="793.0" x2="420.9" y2="875.6" stroke="#000" stroke-width="2.2"/><line x1="420.9" y1="931.6" x2="420.9" y2="956.8" stroke="#000" stroke-width="2.2"/><rect x="401.1" y="876.7" width="39.6" height="53.8" fill="#00CD66" fill-opacity="0.5" stroke="#000" stroke-width="2.2"/><line x1="401.0" y1="903.6" x2="440.8" y2="903.6" stroke="#000" stroke-width="4.4"/><line x1="465.0" y1="766.4" x2="465.0" y2="855.2" stroke="#000" stroke-width="2.2"/><line x1="465.0" y1="915.4" x2="465.0" y2="955.4" stroke="#000" stroke-width="2.2"/><rect x="445.2" y="856.3" width="39.6" height="58.0" fill="#90EE90" fill-opacity="0.5" stroke="#000" stroke-width="2.2"/><line x1="445.1" y1="885.4" x2="484.9" y2="885.4" stroke="#000" stroke-width="4.4"/><line x1="142.60" y1="679.4" x2="142.60" y2="969.2" stroke="#d6d6d6" stroke-width="1"/><rect x="140.80" y="678.10" width="383.90" height="292.40" fill="none" stroke="#000" stroke-width="2.6"/><line x1="127.0" y1="727.7" x2="140.0" y2="727.7" stroke="#333" stroke-width="4.2"/><line x1="127.0" y1="805.0" x2="140.0" y2="805.0" stroke="#333" stroke-width="4.2"/><line x1="127.0" y1="881.7" x2="140.0" y2="881.7" stroke="#333" stroke-width="4.2"/><line x1="127.0" y1="958.1" x2="140.0" y2="958.1" stroke="#333" stroke-width="4.2"/><line x1="244.5" y1="971.3" x2="244.5" y2="983.8" stroke="#333" stroke-width="4.2"/><line x1="420.9" y1="971.3" x2="420.9" y2="983.8" stroke="#333" stroke-width="4.2"/><rect x="761.2" y="895.0" width="22.8" height="63.0" fill="url(#g21)"/><rect x="804.8" y="677.5" width="23.8" height="280.5" fill="url(#g22)"/><rect x="905.9" y="930.3" width="2.6" height="2.6" fill="#006400" fill-opacity="0.18"/><rect x="896.2" y="941.8" width="2.6" height="2.6" fill="#006400" fill-opacity="0.14"/><rect x="903.2" y="928.6" width="2.6" height="2.6" fill="#006400" fill-opacity="0.18"/><rect x="903.7" y="932.9" width="2.6" height="2.6" fill="#006400" fill-opacity="0.14"/><rect x="898.9" y="947.3" width="2.6" height="2.6" fill="#006400" fill-opacity="0.18"/><rect x="892.8" y="917.6" width="2.6" height="2.6" fill="#006400" fill-opacity="0.1"/><rect x="891.6" y="946.3" width="2.6" height="2.6" fill="#006400" fill-opacity="0.18"/><rect x="914.2" y="927.9" width="2.6" height="2.6" fill="#006400" fill-opacity="0.18"/><rect x="912.5" y="847.4" width="2.6" height="2.6" fill="#006400" fill-opacity="0.18"/><rect x="900.9" y="915.8" width="2.6" height="2.6" fill="#006400" fill-opacity="0.18"/><rect x="913.2" y="747.4" width="2.6" height="2.6" fill="#006400" fill-opacity="0.23"/><rect x="905.0" y="951.1" width="2.6" height="2.6" fill="#006400" fill-opacity="0.14"/><rect x="892.7" y="948.0" width="2.6" height="2.6" fill="#006400" fill-opacity="0.14"/><rect x="897.5" y="952.1" width="2.6" height="2.6" fill="#006400" fill-opacity="0.18"/><rect x="894.6" y="925.3" width="2.6" height="2.6" fill="#006400" fill-opacity="0.18"/><rect x="912.9" y="891.7" width="2.6" height="2.6" fill="#006400" fill-opacity="0.14"/><rect x="894.7" y="953.7" width="2.6" height="2.6" fill="#006400" fill-opacity="0.1"/><rect x="914.9" y="952.8" width="2.6" height="2.6" fill="#006400" fill-opacity="0.18"/><rect x="909.4" y="909.2" width="2.6" height="2.6" fill="#006400" fill-opacity="0.14"/><rect x="892.9" y="904.8" width="2.6" height="2.6" fill="#006400" fill-opacity="0.1"/><rect x="910.5" y="890.5" width="2.6" height="2.6" fill="#006400" fill-opacity="0.14"/><rect x="903.3" y="915.7" width="2.6" height="2.6" fill="#006400" fill-opacity="0.1"/><rect x="901.0" y="856.3" width="2.6" height="2.6" fill="#006400" fill-opacity="0.23"/><rect x="906.6" y="939.8" width="2.6" height="2.6" fill="#006400" fill-opacity="0.23"/><rect x="911.5" y="904.2" width="2.6" height="2.6" fill="#006400" fill-opacity="0.18"/><rect x="905.5" y="893.9" width="2.6" height="2.6" fill="#006400" fill-opacity="0.1"/><rect x="912.5" y="907.2" width="2.6" height="2.6" fill="#006400" fill-opacity="0.14"/><rect x="900.1" y="850.2" width="2.6" height="2.6" fill="#006400" fill-opacity="0.1"/><rect x="902.5" y="913.7" width="2.6" height="2.6" fill="#006400" fill-opacity="0.23"/><rect x="915.4" y="737.3" width="2.6" height="2.6" fill="#006400" fill-opacity="0.14"/><rect x="910.3" y="924.5" width="2.6" height="2.6" fill="#006400" fill-opacity="0.18"/><rect x="905.9" y="806.4" width="2.6" height="2.6" fill="#006400" fill-opacity="0.1"/><rect x="915.2" y="882.2" width="2.6" height="2.6" fill="#006400" fill-opacity="0.23"/><rect x="893.2" y="867.1" width="2.6" height="2.6" fill="#006400" fill-opacity="0.23"/><rect x="899.3" y="846.5" width="2.6" height="2.6" fill="#006400" fill-opacity="0.14"/><rect x="891.7" y="921.6" width="2.6" height="2.6" fill="#006400" fill-opacity="0.14"/><rect x="911.4" y="905.6" width="2.6" height="2.6" fill="#006400" fill-opacity="0.14"/><rect x="904.6" y="883.9" width="2.6" height="2.6" fill="#006400" fill-opacity="0.1"/><rect x="913.6" y="941.1" width="2.6" height="2.6" fill="#006400" fill-opacity="0.14"/><rect x="911.8" y="928.0" width="2.6" height="2.6" fill="#006400" fill-opacity="0.14"/><rect x="904.8" y="929.3" width="2.6" height="2.6" fill="#006400" fill-opacity="0.14"/><rect x="892.1" y="854.9" width="2.6" height="2.6" fill="#006400" fill-opacity="0.14"/><rect x="898.0" y="900.5" width="2.6" height="2.6" fill="#006400" fill-opacity="0.23"/><rect x="892.7" y="866.6" width="2.6" height="2.6" fill="#006400" fill-opacity="0.1"/><rect x="895.4" y="954.3" width="2.6" height="2.6" fill="#006400" fill-opacity="0.14"/><rect x="911.1" y="899.3" width="2.6" height="2.6" fill="#006400" fill-opacity="0.14"/><rect x="896.2" y="928.1" width="2.6" height="2.6" fill="#006400" fill-opacity="0.1"/><rect x="908.5" y="919.9" width="2.6" height="2.6" fill="#006400" fill-opacity="0.18"/><rect x="903.7" y="942.6" width="2.6" height="2.6" fill="#006400" fill-opacity="0.23"/><rect x="893.5" y="943.0" width="2.6" height="2.6" fill="#006400" fill-opacity="0.1"/><rect x="901.4" y="945.9" width="2.6" height="2.6" fill="#006400" fill-opacity="0.18"/><rect x="915.3" y="916.7" width="2.6" height="2.6" fill="#006400" fill-opacity="0.18"/><rect x="915.3" y="920.3" width="2.6" height="2.6" fill="#006400" fill-opacity="0.14"/><rect x="906.2" y="853.1" width="2.6" height="2.6" fill="#006400" fill-opacity="0.18"/><rect x="902.1" y="916.6" width="2.6" height="2.6" fill="#006400" fill-opacity="0.14"/><rect x="903.5" y="847.3" width="2.6" height="2.6" fill="#006400" fill-opacity="0.14"/><rect x="909.8" y="925.3" width="2.6" height="2.6" fill="#006400" fill-opacity="0.23"/><rect x="903.8" y="901.3" width="2.6" height="2.6" fill="#006400" fill-opacity="0.23"/><rect x="895.5" y="895.6" width="2.6" height="2.6" fill="#006400" fill-opacity="0.1"/><rect x="893.1" y="905.8" width="2.6" height="2.6" fill="#006400" fill-opacity="0.1"/><rect x="899.8" y="907.6" width="2.6" height="2.6" fill="#006400" fill-opacity="0.23"/><rect x="911.4" y="909.3" width="2.6" height="2.6" fill="#006400" fill-opacity="0.1"/><rect x="902.8" y="805.4" width="2.6" height="2.6" fill="#006400" fill-opacity="0.23"/><rect x="895.2" y="947.4" width="2.6" height="2.6" fill="#006400" fill-opacity="0.1"/><rect x="900.2" y="935.8" width="2.6" height="2.6" fill="#006400" fill-opacity="0.23"/><rect x="907.7" y="946.7" width="2.6" height="2.6" fill="#006400" fill-opacity="0.18"/><rect x="904.6" y="936.0" width="2.6" height="2.6" fill="#006400" fill-opacity="0.14"/><rect x="913.1" y="836.3" width="2.6" height="2.6" fill="#006400" fill-opacity="0.1"/><rect x="902.0" y="923.9" width="2.6" height="2.6" fill="#006400" fill-opacity="0.18"/><rect x="899.8" y="927.7" width="2.6" height="2.6" fill="#006400" fill-opacity="0.18"/><rect x="899.4" y="909.8" width="2.6" height="2.6" fill="#006400" fill-opacity="0.23"/><rect x="912.0" y="913.6" width="2.6" height="2.6" fill="#006400" fill-opacity="0.1"/><rect x="900.1" y="906.0" width="2.6" height="2.6" fill="#006400" fill-opacity="0.1"/><rect x="911.1" y="848.3" width="2.6" height="2.6" fill="#006400" fill-opacity="0.14"/><rect x="893.2" y="941.4" width="2.6" height="2.6" fill="#006400" fill-opacity="0.14"/><rect x="894.9" y="807.6" width="2.6" height="2.6" fill="#006400" fill-opacity="0.14"/><rect x="894.3" y="854.8" width="2.6" height="2.6" fill="#006400" fill-opacity="0.1"/><rect x="913.5" y="945.7" width="2.6" height="2.6" fill="#006400" fill-opacity="0.1"/><rect x="911.5" y="935.8" width="2.6" height="2.6" fill="#006400" fill-opacity="0.1"/><rect x="900.7" y="926.1" width="2.6" height="2.6" fill="#006400" fill-opacity="0.1"/><rect x="895.7" y="919.7" width="2.6" height="2.6" fill="#006400" fill-opacity="0.14"/><rect x="892.7" y="933.1" width="2.6" height="2.6" fill="#006400" fill-opacity="0.1"/><rect x="908.1" y="757.9" width="2.6" height="2.6" fill="#006400" fill-opacity="0.14"/><rect x="895.7" y="740.6" width="2.6" height="2.6" fill="#006400" fill-opacity="0.18"/><rect x="900.1" y="930.9" width="2.6" height="2.6" fill="#006400" fill-opacity="0.23"/><rect x="902.1" y="906.9" width="2.6" height="2.6" fill="#006400" fill-opacity="0.23"/><rect x="908.3" y="956.6" width="2.6" height="2.6" fill="#006400" fill-opacity="0.14"/><rect x="910.4" y="882.8" width="2.6" height="2.6" fill="#006400" fill-opacity="0.1"/><rect x="913.1" y="916.0" width="2.6" height="2.6" fill="#006400" fill-opacity="0.23"/><rect x="891.7" y="927.3" width="2.6" height="2.6" fill="#006400" fill-opacity="0.23"/><rect x="899.5" y="946.9" width="2.6" height="2.6" fill="#006400" fill-opacity="0.23"/><rect x="892.6" y="895.7" width="2.6" height="2.6" fill="#006400" fill-opacity="0.14"/><rect x="895.2" y="918.9" width="2.6" height="2.6" fill="#006400" fill-opacity="0.1"/><rect x="908.2" y="928.9" width="2.6" height="2.6" fill="#006400" fill-opacity="0.1"/><rect x="908.3" y="941.1" width="2.6" height="2.6" fill="#006400" fill-opacity="0.14"/><rect x="901.2" y="920.6" width="2.6" height="2.6" fill="#006400" fill-opacity="0.23"/><rect x="906.2" y="955.0" width="2.6" height="2.6" fill="#006400" fill-opacity="0.18"/><rect x="915.2" y="936.9" width="2.6" height="2.6" fill="#006400" fill-opacity="0.14"/><rect x="911.1" y="951.5" width="2.6" height="2.6" fill="#006400" fill-opacity="0.18"/><rect x="897.7" y="921.8" width="2.6" height="2.6" fill="#006400" fill-opacity="0.18"/><rect x="903.1" y="880.6" width="2.6" height="2.6" fill="#006400" fill-opacity="0.18"/><rect x="903.2" y="956.4" width="2.6" height="2.6" fill="#006400" fill-opacity="0.1"/><rect x="905.2" y="874.7" width="2.6" height="2.6" fill="#006400" fill-opacity="0.18"/><rect x="913.8" y="907.7" width="2.6" height="2.6" fill="#006400" fill-opacity="0.1"/><rect x="900.4" y="895.1" width="2.6" height="2.6" fill="#006400" fill-opacity="0.1"/><rect x="912.6" y="908.0" width="2.6" height="2.6" fill="#006400" fill-opacity="0.18"/><rect x="900.2" y="770.5" width="2.6" height="2.6" fill="#006400" fill-opacity="0.1"/><rect x="896.5" y="920.3" width="2.6" height="2.6" fill="#006400" fill-opacity="0.18"/><rect x="913.5" y="850.7" width="2.6" height="2.6" fill="#006400" fill-opacity="0.23"/><rect x="906.9" y="949.2" width="2.6" height="2.6" fill="#006400" fill-opacity="0.18"/><rect x="901.0" y="926.4" width="2.6" height="2.6" fill="#006400" fill-opacity="0.23"/><rect x="911.5" y="933.3" width="2.6" height="2.6" fill="#006400" fill-opacity="0.18"/><rect x="904.4" y="826.7" width="2.6" height="2.6" fill="#006400" fill-opacity="0.14"/><rect x="912.0" y="925.8" width="2.6" height="2.6" fill="#006400" fill-opacity="0.18"/><rect x="902.9" y="933.0" width="2.6" height="2.6" fill="#006400" fill-opacity="0.1"/><rect x="912.6" y="806.1" width="2.6" height="2.6" fill="#006400" fill-opacity="0.14"/><rect x="908.6" y="909.5" width="2.6" height="2.6" fill="#006400" fill-opacity="0.18"/><rect x="895.8" y="929.3" width="2.6" height="2.6" fill="#006400" fill-opacity="0.14"/><rect x="906.9" y="921.8" width="2.6" height="2.6" fill="#006400" fill-opacity="0.18"/><rect x="913.7" y="896.4" width="2.6" height="2.6" fill="#006400" fill-opacity="0.23"/><rect x="897.6" y="937.7" width="2.6" height="2.6" fill="#006400" fill-opacity="0.1"/><rect x="906.1" y="883.6" width="2.6" height="2.6" fill="#006400" fill-opacity="0.1"/><rect x="911.9" y="912.2" width="2.6" height="2.6" fill="#006400" fill-opacity="0.23"/><rect x="902.7" y="853.5" width="2.6" height="2.6" fill="#006400" fill-opacity="0.18"/><rect x="897.0" y="921.3" width="2.6" height="2.6" fill="#006400" fill-opacity="0.23"/><rect x="896.1" y="912.1" width="2.6" height="2.6" fill="#006400" fill-opacity="0.18"/><rect x="904.7" y="870.0" width="2.6" height="2.6" fill="#006400" fill-opacity="0.23"/><rect x="913.0" y="954.6" width="2.6" height="2.6" fill="#006400" fill-opacity="0.23"/><rect x="900.2" y="900.9" width="2.6" height="2.6" fill="#006400" fill-opacity="0.23"/><rect x="895.3" y="946.6" width="2.6" height="2.6" fill="#006400" fill-opacity="0.1"/><rect x="915.0" y="930.5" width="2.6" height="2.6" fill="#006400" fill-opacity="0.14"/><rect x="899.3" y="901.5" width="2.6" height="2.6" fill="#006400" fill-opacity="0.14"/><rect x="896.3" y="890.6" width="2.6" height="2.6" fill="#006400" fill-opacity="0.1"/><rect x="900.3" y="943.4" width="2.6" height="2.6" fill="#006400" fill-opacity="0.18"/><rect x="896.1" y="929.2" width="2.6" height="2.6" fill="#006400" fill-opacity="0.14"/><rect x="898.6" y="915.3" width="2.6" height="2.6" fill="#006400" fill-opacity="0.14"/><rect x="901.5" y="914.5" width="2.6" height="2.6" fill="#006400" fill-opacity="0.14"/><rect x="903.6" y="898.2" width="2.6" height="2.6" fill="#006400" fill-opacity="0.1"/><rect x="894.0" y="938.0" width="2.6" height="2.6" fill="#006400" fill-opacity="0.18"/><rect x="907.7" y="956.5" width="2.6" height="2.6" fill="#006400" fill-opacity="0.1"/><rect x="893.5" y="887.9" width="2.6" height="2.6" fill="#006400" fill-opacity="0.18"/><rect x="891.6" y="913.7" width="2.6" height="2.6" fill="#006400" fill-opacity="0.23"/><rect x="904.2" y="919.8" width="2.6" height="2.6" fill="#006400" fill-opacity="0.14"/><rect x="895.7" y="744.8" width="2.6" height="2.6" fill="#006400" fill-opacity="0.14"/><rect x="937.4" y="677.5" width="22.8" height="278.5" fill="url(#g23)"/><rect x="980.8" y="677.5" width="23.8" height="277.5" fill="url(#g24)"/><rect x="707.8" y="954.65" width="41.8" height="4.7" rx="2.35" fill="#000"/><line x1="772.6" y1="933.0" x2="772.6" y2="944.8" stroke="#000" stroke-width="2.2"/><line x1="772.6" y1="954.5" x2="772.6" y2="958.0" stroke="#000" stroke-width="2.2"/><rect x="752.8" y="945.9" width="39.6" height="7.5" fill="#00CD66" fill-opacity="0.5" stroke="#000" stroke-width="2.2"/><line x1="752.7" y1="951.5" x2="792.5" y2="951.5" stroke="#000" stroke-width="4.4"/><line x1="816.7" y1="856.9" x2="816.7" y2="909.2" stroke="#000" stroke-width="2.2"/><line x1="816.7" y1="946.2" x2="816.7" y2="957.6" stroke="#000" stroke-width="2.2"/><rect x="796.9" y="910.3" width="39.6" height="34.8" fill="#90EE90" fill-opacity="0.5" stroke="#000" stroke-width="2.2"/><line x1="796.8" y1="934.1" x2="836.6" y2="934.1" stroke="#000" stroke-width="4.4"/><line x1="904.7" y1="829.2" x2="904.7" y2="890.7" stroke="#000" stroke-width="2.2"/><line x1="904.7" y1="933.5" x2="904.7" y2="955.9" stroke="#000" stroke-width="2.2"/><rect x="884.9" y="891.8" width="39.6" height="40.6" fill="#006400" fill-opacity="0.5" stroke="#000" stroke-width="2.2"/><line x1="884.8" y1="913.1" x2="924.6" y2="913.1" stroke="#000" stroke-width="4.4"/><line x1="948.8" y1="756.5" x2="948.8" y2="865.5" stroke="#000" stroke-width="2.2"/><line x1="948.8" y1="938.8" x2="948.8" y2="955.9" stroke="#000" stroke-width="2.2"/><rect x="929.0" y="866.6" width="39.6" height="71.1" fill="#00CD66" fill-opacity="0.5" stroke="#000" stroke-width="2.2"/><line x1="928.9" y1="913.6" x2="968.7" y2="913.6" stroke="#000" stroke-width="4.4"/><line x1="992.7" y1="700.5" x2="992.7" y2="839.0" stroke="#000" stroke-width="2.2"/><line x1="992.7" y1="931.3" x2="992.7" y2="955.9" stroke="#000" stroke-width="2.2"/><rect x="972.9" y="840.1" width="39.6" height="90.1" fill="#90EE90" fill-opacity="0.5" stroke="#000" stroke-width="2.2"/><line x1="972.8" y1="903.3" x2="1012.6" y2="903.3" stroke="#000" stroke-width="4.4"/><line x1="670.10" y1="679.6" x2="670.10" y2="968.4" stroke="#d6d6d6" stroke-width="1"/><rect x="668.30" y="678.30" width="384.00" height="291.40" fill="none" stroke="#000" stroke-width="2.6"/><line x1="654.5" y1="688.8" x2="667.5" y2="688.8" stroke="#333" stroke-width="4.2"/><line x1="654.5" y1="779.0" x2="667.5" y2="779.0" stroke="#333" stroke-width="4.2"/><line x1="654.5" y1="868.6" x2="667.5" y2="868.6" stroke="#333" stroke-width="4.2"/><line x1="654.5" y1="957.4" x2="667.5" y2="957.4" stroke="#333" stroke-width="4.2"/><line x1="772.6" y1="970.5" x2="772.6" y2="983.0" stroke="#333" stroke-width="4.2"/><line x1="948.8" y1="970.5" x2="948.8" y2="983.0" stroke="#333" stroke-width="4.2"/></g><g font-family="'Liberation Sans', sans-serif" fill="#000" stroke="#fff" stroke-width="0.3"><text x="69.50" y="60.10" font-size="23.5" textLength="45.10" lengthAdjust="spacingAndGlyphs">200</text><text x="74.70" y="127.30" font-size="23.5" textLength="39.90" lengthAdjust="spacingAndGlyphs">150</text><text x="72.80" y="194.20" font-size="23.5" textLength="41.80" lengthAdjust="spacingAndGlyphs">100</text><text x="84.90" y="261.40" font-size="23.5" textLength="29.70" lengthAdjust="spacingAndGlyphs">50</text><text x="99.10" y="328.50" font-size="23.5" textLength="15.50" lengthAdjust="spacingAndGlyphs">0</text><text x="63.20" y="378.60" font-size="23.5" textLength="51.40" lengthAdjust="spacingAndGlyphs">0.04</text><text x="62.90" y="445.60" font-size="23.5" textLength="51.70" lengthAdjust="spacingAndGlyphs">0.03</text><text x="63.00" y="512.60" font-size="23.5" textLength="51.60" lengthAdjust="spacingAndGlyphs">0.02</text><text x="67.90" y="579.60" font-size="23.5" textLength="46.50" lengthAdjust="spacingAndGlyphs">0.01</text><text x="99.40" y="646.90" font-size="23.5" textLength="15.20" lengthAdjust="spacingAndGlyphs">0</text><text x="77.90" y="735.60" font-size="23.5" textLength="36.70" lengthAdjust="spacingAndGlyphs">0.3</text><text x="79.00" y="812.90" font-size="23.5" textLength="35.60" lengthAdjust="spacingAndGlyphs">0.2</text><text x="82.70" y="889.60" font-size="23.5" textLength="31.70" lengthAdjust="spacingAndGlyphs">0.1</text><text x="98.90" y="966.00" font-size="23.5" textLength="15.70" lengthAdjust="spacingAndGlyphs">0</text><text x="612.20" y="60.10" font-size="23.5" textLength="29.80" lengthAdjust="spacingAndGlyphs">60</text><text x="612.90" y="149.40" font-size="23.5" textLength="29.10" lengthAdjust="spacingAndGlyphs">40</text><text x="612.80" y="239.50" font-size="23.5" textLength="29.20" lengthAdjust="spacingAndGlyphs">20</text><text x="627.20" y="328.80" font-size="23.5" textLength="14.80" lengthAdjust="spacingAndGlyphs">0</text><text x="579.90" y="410.20" font-size="23.5" textLength="62.10" lengthAdjust="spacingAndGlyphs">0.010</text><text x="575.90" y="488.90" font-size="23.5" textLength="67.10" lengthAdjust="spacingAndGlyphs">0.005</text><text x="627.20" y="568.00" font-size="23.5" textLength="14.80" lengthAdjust="spacingAndGlyphs">0</text><text x="563.30" y="647.30" font-size="23.5" textLength="79.70" lengthAdjust="spacingAndGlyphs">−0.005</text><text x="590.30" y="696.70" font-size="23.5" textLength="52.70" lengthAdjust="spacingAndGlyphs">0.06</text><text x="590.30" y="786.90" font-size="23.5" textLength="51.70" lengthAdjust="spacingAndGlyphs">0.04</text><text x="591.00" y="876.50" font-size="23.5" textLength="52.00" lengthAdjust="spacingAndGlyphs">0.02</text><text x="626.50" y="965.30" font-size="23.5" textLength="15.50" lengthAdjust="spacingAndGlyphs">0</text><text x="182.20" y="20.00" font-size="27.5" textLength="290.60" lengthAdjust="spacingAndGlyphs">Maximum temperature</text><text x="723.00" y="20.00" font-size="27.5" textLength="283.40" lengthAdjust="spacingAndGlyphs">Minimum temperature</text><text x="215.00" y="1012.00" font-size="23.5" textLength="59.40" lengthAdjust="spacingAndGlyphs">Land-</text><text x="204.90" y="1039.80" font-size="23.5" textLength="80.20" lengthAdjust="spacingAndGlyphs">surface</text><text x="382.20" y="1012.00" font-size="23.5" textLength="76.70" lengthAdjust="spacingAndGlyphs">Within-</text><text x="380.60" y="1040.00" font-size="23.5" textLength="79.00" lengthAdjust="spacingAndGlyphs">canopy</text><text x="742.00" y="1012.00" font-size="23.5" textLength="59.40" lengthAdjust="spacingAndGlyphs">Land-</text><text x="731.90" y="1039.80" font-size="23.5" textLength="80.20" lengthAdjust="spacingAndGlyphs">surface</text><text x="910.00" y="1012.00" font-size="23.5" textLength="76.70" lengthAdjust="spacingAndGlyphs">Within-</text><text x="908.40" y="1040.00" font-size="23.5" textLength="79.00" lengthAdjust="spacingAndGlyphs">canopy</text><text x="205.50" y="1085.50" font-size="27.5" textLength="240.90" lengthAdjust="spacingAndGlyphs">Climate conditions</text><text x="733.20" y="1085.50" font-size="27.5" textLength="240.60" lengthAdjust="spacingAndGlyphs">Climate conditions</text><text x="402.00" y="1149.80" font-size="27.5" textLength="58.20" lengthAdjust="spacingAndGlyphs">1 km</text><text x="572.70" y="1149.80" font-size="27.5" textLength="80.70" lengthAdjust="spacingAndGlyphs">100 m</text><text x="780.10" y="1149.80" font-size="27.5" textLength="67.60" lengthAdjust="spacingAndGlyphs">20 m</text><text x="472.00" y="1209.40" font-size="27.5" textLength="235.00" lengthAdjust="spacingAndGlyphs">Spatial resolutions</text><text transform="translate(20.8,184.4) rotate(-90)" x="0" y="0" text-anchor="middle" font-size="27.5" textLength="208.5" lengthAdjust="spacingAndGlyphs">Climate velocity</text><text transform="translate(51.1,186.65) rotate(-90)" x="0" y="0" text-anchor="middle" font-size="27.5" textLength="229.8" lengthAdjust="spacingAndGlyphs">(temporal/spatial)</text><text transform="translate(42.9,504.6) rotate(-90)" x="0" y="0" text-anchor="middle" font-size="27.5" textLength="178.4" lengthAdjust="spacingAndGlyphs">Temporal rate</text><text transform="translate(57.9,824.05) rotate(-90)" x="0" y="0" text-anchor="middle" font-size="27.5" textLength="202.4" lengthAdjust="spacingAndGlyphs">Spatial gradient</text><line x1="359.0" y1="1111.2" x2="359.0" y2="1122.5" stroke="#000" stroke-width="2"/><line x1="359.0" y1="1162" x2="359.0" y2="1174" stroke="#000" stroke-width="2"/><rect x="329.5" y="1123.2" width="59.1" height="38.2" fill="#80B280" stroke="#000" stroke-width="2.4"/><line x1="329.3" y1="1142.2" x2="388.8" y2="1142.2" stroke="#000" stroke-width="2.2"/><line x1="529.6" y1="1111.2" x2="529.6" y2="1122.5" stroke="#000" stroke-width="2"/><line x1="529.6" y1="1162" x2="529.6" y2="1174" stroke="#000" stroke-width="2"/><rect x="500.1" y="1123.2" width="58.7" height="38.2" fill="#80E6B3" stroke="#000" stroke-width="2.4"/><line x1="499.9" y1="1142.2" x2="559.0" y2="1142.2" stroke="#000" stroke-width="2.2"/><line x1="735.7" y1="1111.2" x2="735.7" y2="1122.5" stroke="#000" stroke-width="2"/><line x1="735.7" y1="1162" x2="735.7" y2="1174" stroke="#000" stroke-width="2"/><rect x="706.2" y="1123.2" width="59.0" height="38.2" fill="#C8F7C8" stroke="#000" stroke-width="2.4"/><line x1="706.0" y1="1142.2" x2="765.4" y2="1142.2" stroke="#000" stroke-width="2.2"/></g></svg></body></html>
